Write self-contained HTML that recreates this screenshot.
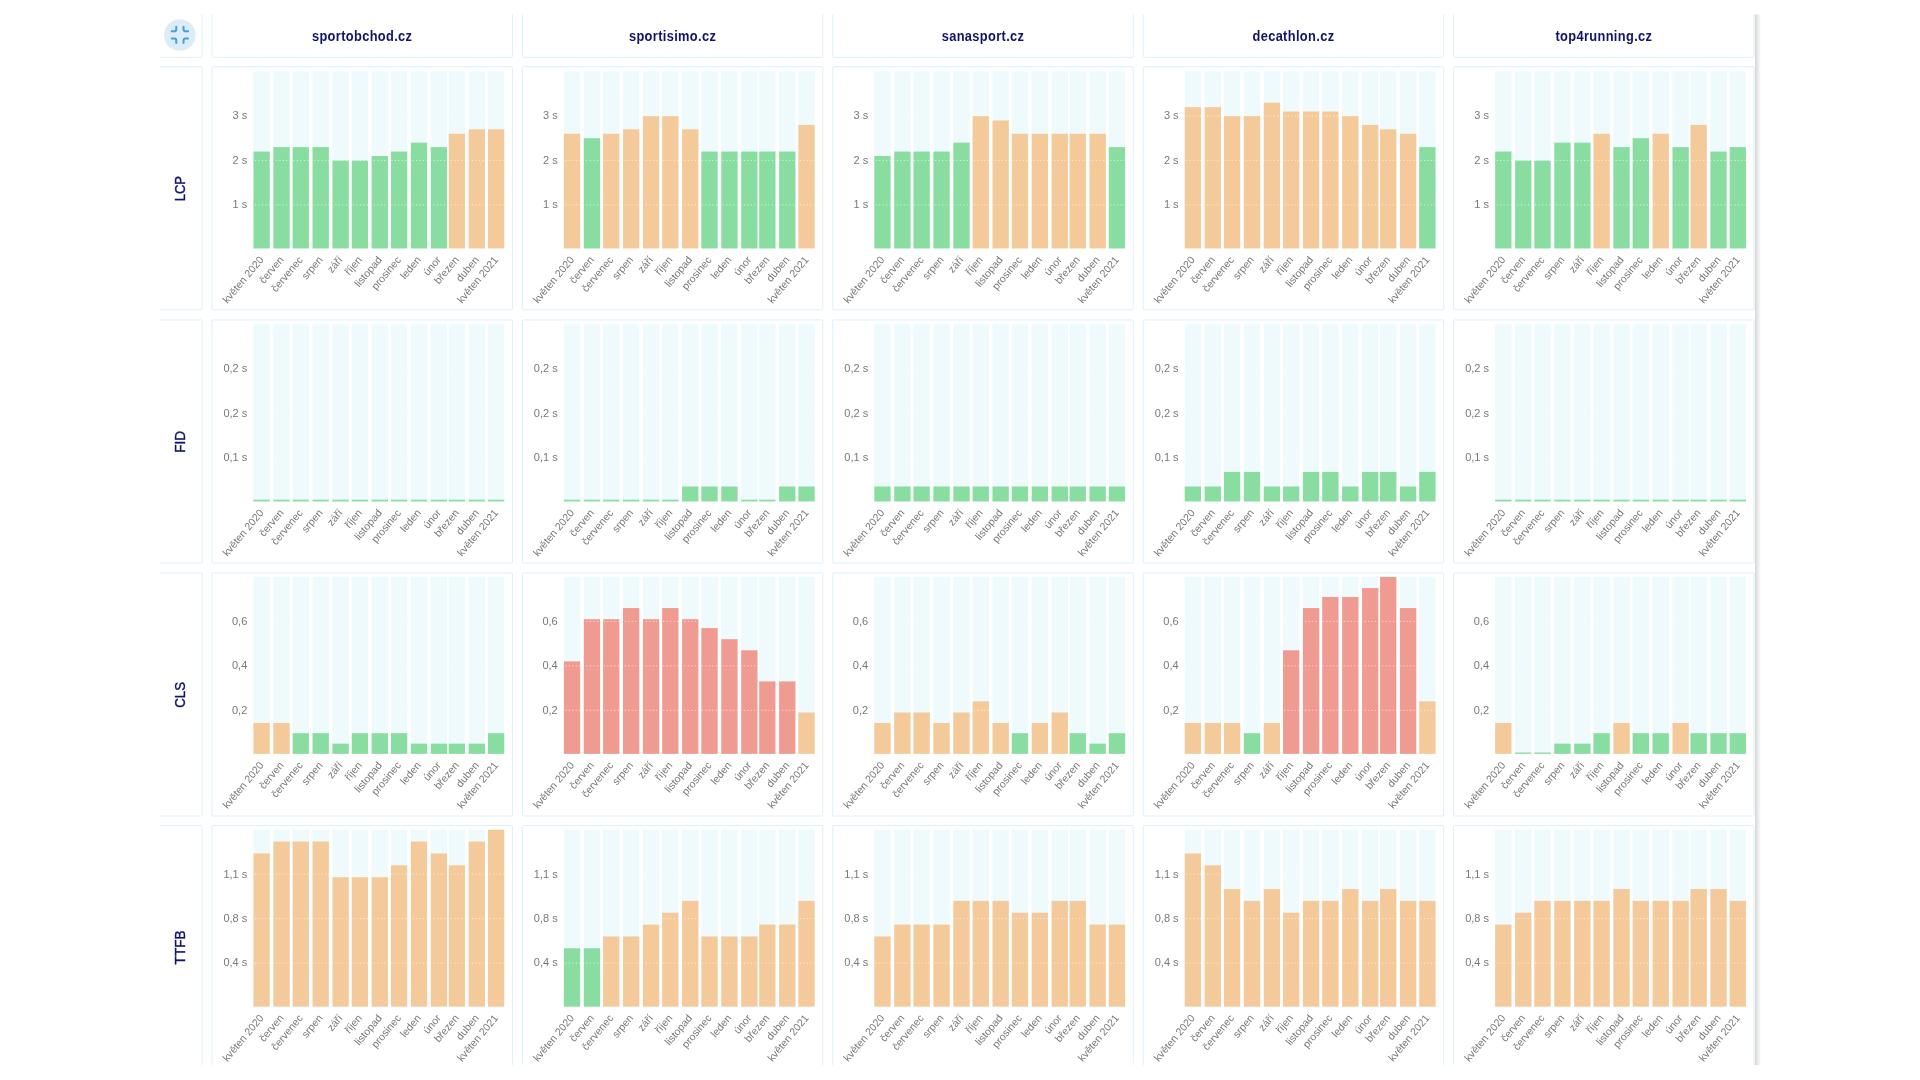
<!DOCTYPE html><html><head><meta charset="utf-8"><style>
html,body{margin:0;padding:0;background:#fff;width:1920px;height:1080px;overflow:hidden}
svg{display:block}
text{font-family:"Liberation Sans",sans-serif}
svg{will-change:transform;filter:blur(0.3px)}
</style></head><body>
<svg width="1920" height="1080" viewBox="0 0 1920 1080">
<defs><clipPath id="cp"><rect x="160" y="14.4" width="1595" height="1050.6"/></clipPath>
<linearGradient id="sh" x1="0" x2="1" y1="0" y2="0"><stop offset="0" stop-color="#000" stop-opacity="0.16"/><stop offset="1" stop-color="#000" stop-opacity="0"/></linearGradient>
</defs>
<rect width="1920" height="1080" fill="#fff"/>
<g clip-path="url(#cp)">
<rect x="140" y="4.4" width="62.1" height="52.9" rx="1" fill="#fff" stroke="#def0fa" stroke-width="1"/>
<rect x="211.9" y="4.4" width="300.5" height="52.9" rx="1" fill="#fff" stroke="#def0fa" stroke-width="1"/>
<rect x="522.33" y="4.4" width="300.5" height="52.9" rx="1" fill="#fff" stroke="#def0fa" stroke-width="1"/>
<rect x="832.76" y="4.4" width="300.5" height="52.9" rx="1" fill="#fff" stroke="#def0fa" stroke-width="1"/>
<rect x="1143.19" y="4.4" width="300.5" height="52.9" rx="1" fill="#fff" stroke="#def0fa" stroke-width="1"/>
<rect x="1453.62" y="4.4" width="300.5" height="52.9" rx="1" fill="#fff" stroke="#def0fa" stroke-width="1"/>
<rect x="140" y="66.7" width="62.1" height="243.1" rx="1" fill="#fff" stroke="#def0fa" stroke-width="1"/>
<rect x="211.9" y="66.7" width="300.5" height="243.1" rx="1" fill="#fff" stroke="#def0fa" stroke-width="1"/>
<rect x="522.33" y="66.7" width="300.5" height="243.1" rx="1" fill="#fff" stroke="#def0fa" stroke-width="1"/>
<rect x="832.76" y="66.7" width="300.5" height="243.1" rx="1" fill="#fff" stroke="#def0fa" stroke-width="1"/>
<rect x="1143.19" y="66.7" width="300.5" height="243.1" rx="1" fill="#fff" stroke="#def0fa" stroke-width="1"/>
<rect x="1453.62" y="66.7" width="300.5" height="243.1" rx="1" fill="#fff" stroke="#def0fa" stroke-width="1"/>
<rect x="140" y="319.9" width="62.1" height="243.1" rx="1" fill="#fff" stroke="#def0fa" stroke-width="1"/>
<rect x="211.9" y="319.9" width="300.5" height="243.1" rx="1" fill="#fff" stroke="#def0fa" stroke-width="1"/>
<rect x="522.33" y="319.9" width="300.5" height="243.1" rx="1" fill="#fff" stroke="#def0fa" stroke-width="1"/>
<rect x="832.76" y="319.9" width="300.5" height="243.1" rx="1" fill="#fff" stroke="#def0fa" stroke-width="1"/>
<rect x="1143.19" y="319.9" width="300.5" height="243.1" rx="1" fill="#fff" stroke="#def0fa" stroke-width="1"/>
<rect x="1453.62" y="319.9" width="300.5" height="243.1" rx="1" fill="#fff" stroke="#def0fa" stroke-width="1"/>
<rect x="140" y="572.9" width="62.1" height="243.1" rx="1" fill="#fff" stroke="#def0fa" stroke-width="1"/>
<rect x="211.9" y="572.9" width="300.5" height="243.1" rx="1" fill="#fff" stroke="#def0fa" stroke-width="1"/>
<rect x="522.33" y="572.9" width="300.5" height="243.1" rx="1" fill="#fff" stroke="#def0fa" stroke-width="1"/>
<rect x="832.76" y="572.9" width="300.5" height="243.1" rx="1" fill="#fff" stroke="#def0fa" stroke-width="1"/>
<rect x="1143.19" y="572.9" width="300.5" height="243.1" rx="1" fill="#fff" stroke="#def0fa" stroke-width="1"/>
<rect x="1453.62" y="572.9" width="300.5" height="243.1" rx="1" fill="#fff" stroke="#def0fa" stroke-width="1"/>
<rect x="140" y="825.5" width="62.1" height="243.1" rx="1" fill="#fff" stroke="#def0fa" stroke-width="1"/>
<rect x="211.9" y="825.5" width="300.5" height="243.1" rx="1" fill="#fff" stroke="#def0fa" stroke-width="1"/>
<rect x="522.33" y="825.5" width="300.5" height="243.1" rx="1" fill="#fff" stroke="#def0fa" stroke-width="1"/>
<rect x="832.76" y="825.5" width="300.5" height="243.1" rx="1" fill="#fff" stroke="#def0fa" stroke-width="1"/>
<rect x="1143.19" y="825.5" width="300.5" height="243.1" rx="1" fill="#fff" stroke="#def0fa" stroke-width="1"/>
<rect x="1453.62" y="825.5" width="300.5" height="243.1" rx="1" fill="#fff" stroke="#def0fa" stroke-width="1"/>
<circle cx="179.9" cy="35.0" r="15.8" fill="#dcedf9"/>
<g transform="translate(168.98,23.98) scale(0.91)" fill="none" stroke="#45a0e0" stroke-width="2.2" stroke-linecap="round" stroke-linejoin="round"><path d="M8 3v3a2 2 0 0 1-2 2H3m18 0h-3a2 2 0 0 1-2-2V3m0 18v-3a2 2 0 0 1 2-2h3M3 16h3a2 2 0 0 1 2 2v3"/></g>
<text x="0" y="0" transform="translate(362.15,40.8) scale(0.885,1)" text-anchor="middle" font-size="14.5" font-weight="bold" letter-spacing="0.4" fill="#12146a">sportobchod.cz</text>
<text x="0" y="0" transform="translate(672.58,40.8) scale(0.885,1)" text-anchor="middle" font-size="14.5" font-weight="bold" letter-spacing="0.4" fill="#12146a">sportisimo.cz</text>
<text x="0" y="0" transform="translate(983.01,40.8) scale(0.885,1)" text-anchor="middle" font-size="14.5" font-weight="bold" letter-spacing="0.4" fill="#12146a">sanasport.cz</text>
<text x="0" y="0" transform="translate(1293.44,40.8) scale(0.885,1)" text-anchor="middle" font-size="14.5" font-weight="bold" letter-spacing="0.4" fill="#12146a">decathlon.cz</text>
<text x="0" y="0" transform="translate(1603.87,40.8) scale(0.885,1)" text-anchor="middle" font-size="14.5" font-weight="bold" letter-spacing="0.4" fill="#12146a">top4running.cz</text>
<text x="0" y="0" transform="translate(185,188.65) rotate(-90) scale(0.93,1)" text-anchor="middle" font-size="14" fill="#12146a" stroke="#12146a" stroke-width="0.4">LCP</text>
<text x="0" y="0" transform="translate(185,441.85) rotate(-90) scale(0.97,1)" text-anchor="middle" font-size="14" fill="#12146a" stroke="#12146a" stroke-width="0.4">FID</text>
<text x="0" y="0" transform="translate(185,694.85) rotate(-90) scale(0.95,1)" text-anchor="middle" font-size="14" fill="#12146a" stroke="#12146a" stroke-width="0.4">CLS</text>
<text x="0" y="0" transform="translate(185,947.45) rotate(-90) scale(0.97,1)" text-anchor="middle" font-size="14" fill="#12146a" stroke="#12146a" stroke-width="0.4">TTFB</text>
<rect x="253.45" y="71.35" width="16.3" height="177.1" fill="#eefafc"/><rect x="273.37" y="71.35" width="16.3" height="177.1" fill="#eefafc"/><rect x="292.64" y="71.35" width="16.3" height="177.1" fill="#eefafc"/><rect x="312.56" y="71.35" width="16.3" height="177.1" fill="#eefafc"/><rect x="332.47" y="71.35" width="16.3" height="177.1" fill="#eefafc"/><rect x="351.75" y="71.35" width="16.3" height="177.1" fill="#eefafc"/><rect x="371.66" y="71.35" width="16.3" height="177.1" fill="#eefafc"/><rect x="390.94" y="71.35" width="16.3" height="177.1" fill="#eefafc"/><rect x="410.85" y="71.35" width="16.3" height="177.1" fill="#eefafc"/><rect x="430.77" y="71.35" width="16.3" height="177.1" fill="#eefafc"/><rect x="448.76" y="71.35" width="16.3" height="177.1" fill="#eefafc"/><rect x="468.68" y="71.35" width="16.3" height="177.1" fill="#eefafc"/><rect x="487.95" y="71.35" width="16.3" height="177.1" fill="#eefafc"/><rect x="253.45" y="151.56" width="16.3" height="96.89" fill="#89dda1"/><rect x="273.37" y="147.12" width="16.3" height="101.33" fill="#89dda1"/><rect x="292.64" y="147.12" width="16.3" height="101.33" fill="#89dda1"/><rect x="312.56" y="147.12" width="16.3" height="101.33" fill="#89dda1"/><rect x="332.47" y="160.45" width="16.3" height="88" fill="#89dda1"/><rect x="351.75" y="160.45" width="16.3" height="88" fill="#89dda1"/><rect x="371.66" y="156" width="16.3" height="92.44" fill="#89dda1"/><rect x="390.94" y="151.56" width="16.3" height="96.89" fill="#89dda1"/><rect x="410.85" y="142.67" width="16.3" height="105.78" fill="#89dda1"/><rect x="430.77" y="147.12" width="16.3" height="101.33" fill="#89dda1"/><rect x="448.76" y="133.78" width="16.3" height="114.67" fill="#f5ca9b"/><rect x="468.68" y="129.33" width="16.3" height="119.12" fill="#f5ca9b"/><rect x="487.95" y="129.33" width="16.3" height="119.12" fill="#f5ca9b"/><line x1="251.4" y1="204.9" x2="504.25" y2="204.9" stroke="#fff" stroke-opacity="0.75" stroke-width="1" stroke-dasharray="1 2.5"/><text x="247.3" y="208.2" text-anchor="end" font-size="11" fill="#787878">1 s</text><line x1="251.4" y1="160.45" x2="504.25" y2="160.45" stroke="#fff" stroke-opacity="0.75" stroke-width="1" stroke-dasharray="1 2.5"/><text x="247.3" y="163.75" text-anchor="end" font-size="11" fill="#787878">2 s</text><line x1="251.4" y1="116" x2="504.25" y2="116" stroke="#fff" stroke-opacity="0.75" stroke-width="1" stroke-dasharray="1 2.5"/><text x="247.3" y="119.3" text-anchor="end" font-size="11" fill="#787878">3 s</text><text x="0" y="0" transform="translate(261.4,257.75) rotate(-50)" text-anchor="end" dy="0.35em" font-size="10.5" fill="#787878">květen 2020</text><text x="0" y="0" transform="translate(281.32,257.75) rotate(-50)" text-anchor="end" dy="0.35em" font-size="10.5" fill="#787878">červen</text><text x="0" y="0" transform="translate(300.59,257.75) rotate(-50)" text-anchor="end" dy="0.35em" font-size="10.5" fill="#787878">červenec</text><text x="0" y="0" transform="translate(320.51,257.75) rotate(-50)" text-anchor="end" dy="0.35em" font-size="10.5" fill="#787878">srpen</text><text x="0" y="0" transform="translate(340.42,257.75) rotate(-50)" text-anchor="end" dy="0.35em" font-size="10.5" fill="#787878">září</text><text x="0" y="0" transform="translate(359.7,257.75) rotate(-50)" text-anchor="end" dy="0.35em" font-size="10.5" fill="#787878">říjen</text><text x="0" y="0" transform="translate(379.61,257.75) rotate(-50)" text-anchor="end" dy="0.35em" font-size="10.5" fill="#787878">listopad</text><text x="0" y="0" transform="translate(398.89,257.75) rotate(-50)" text-anchor="end" dy="0.35em" font-size="10.5" fill="#787878">prosinec</text><text x="0" y="0" transform="translate(418.8,257.75) rotate(-50)" text-anchor="end" dy="0.35em" font-size="10.5" fill="#787878">leden</text><text x="0" y="0" transform="translate(438.72,257.75) rotate(-50)" text-anchor="end" dy="0.35em" font-size="10.5" fill="#787878">únor</text><text x="0" y="0" transform="translate(456.71,257.75) rotate(-50)" text-anchor="end" dy="0.35em" font-size="10.5" fill="#787878">březen</text><text x="0" y="0" transform="translate(476.63,257.75) rotate(-50)" text-anchor="end" dy="0.35em" font-size="10.5" fill="#787878">duben</text><text x="0" y="0" transform="translate(495.9,257.75) rotate(-50)" text-anchor="end" dy="0.35em" font-size="10.5" fill="#787878">květen 2021</text>
<rect x="563.88" y="71.35" width="16.3" height="177.1" fill="#eefafc"/><rect x="583.8" y="71.35" width="16.3" height="177.1" fill="#eefafc"/><rect x="603.07" y="71.35" width="16.3" height="177.1" fill="#eefafc"/><rect x="622.99" y="71.35" width="16.3" height="177.1" fill="#eefafc"/><rect x="642.9" y="71.35" width="16.3" height="177.1" fill="#eefafc"/><rect x="662.18" y="71.35" width="16.3" height="177.1" fill="#eefafc"/><rect x="682.09" y="71.35" width="16.3" height="177.1" fill="#eefafc"/><rect x="701.37" y="71.35" width="16.3" height="177.1" fill="#eefafc"/><rect x="721.28" y="71.35" width="16.3" height="177.1" fill="#eefafc"/><rect x="741.2" y="71.35" width="16.3" height="177.1" fill="#eefafc"/><rect x="759.19" y="71.35" width="16.3" height="177.1" fill="#eefafc"/><rect x="779.11" y="71.35" width="16.3" height="177.1" fill="#eefafc"/><rect x="798.38" y="71.35" width="16.3" height="177.1" fill="#eefafc"/><rect x="563.88" y="133.78" width="16.3" height="114.67" fill="#f5ca9b"/><rect x="583.8" y="138.22" width="16.3" height="110.22" fill="#89dda1"/><rect x="603.07" y="133.78" width="16.3" height="114.67" fill="#f5ca9b"/><rect x="622.99" y="129.33" width="16.3" height="119.12" fill="#f5ca9b"/><rect x="642.9" y="116" width="16.3" height="132.45" fill="#f5ca9b"/><rect x="662.18" y="116" width="16.3" height="132.45" fill="#f5ca9b"/><rect x="682.09" y="129.33" width="16.3" height="119.12" fill="#f5ca9b"/><rect x="701.37" y="151.56" width="16.3" height="96.89" fill="#89dda1"/><rect x="721.28" y="151.56" width="16.3" height="96.89" fill="#89dda1"/><rect x="741.2" y="151.56" width="16.3" height="96.89" fill="#89dda1"/><rect x="759.19" y="151.56" width="16.3" height="96.89" fill="#89dda1"/><rect x="779.11" y="151.56" width="16.3" height="96.89" fill="#89dda1"/><rect x="798.38" y="124.89" width="16.3" height="123.56" fill="#f5ca9b"/><line x1="561.83" y1="204.9" x2="814.68" y2="204.9" stroke="#fff" stroke-opacity="0.75" stroke-width="1" stroke-dasharray="1 2.5"/><text x="557.73" y="208.2" text-anchor="end" font-size="11" fill="#787878">1 s</text><line x1="561.83" y1="160.45" x2="814.68" y2="160.45" stroke="#fff" stroke-opacity="0.75" stroke-width="1" stroke-dasharray="1 2.5"/><text x="557.73" y="163.75" text-anchor="end" font-size="11" fill="#787878">2 s</text><line x1="561.83" y1="116" x2="814.68" y2="116" stroke="#fff" stroke-opacity="0.75" stroke-width="1" stroke-dasharray="1 2.5"/><text x="557.73" y="119.3" text-anchor="end" font-size="11" fill="#787878">3 s</text><text x="0" y="0" transform="translate(571.83,257.75) rotate(-50)" text-anchor="end" dy="0.35em" font-size="10.5" fill="#787878">květen 2020</text><text x="0" y="0" transform="translate(591.75,257.75) rotate(-50)" text-anchor="end" dy="0.35em" font-size="10.5" fill="#787878">červen</text><text x="0" y="0" transform="translate(611.02,257.75) rotate(-50)" text-anchor="end" dy="0.35em" font-size="10.5" fill="#787878">červenec</text><text x="0" y="0" transform="translate(630.94,257.75) rotate(-50)" text-anchor="end" dy="0.35em" font-size="10.5" fill="#787878">srpen</text><text x="0" y="0" transform="translate(650.85,257.75) rotate(-50)" text-anchor="end" dy="0.35em" font-size="10.5" fill="#787878">září</text><text x="0" y="0" transform="translate(670.13,257.75) rotate(-50)" text-anchor="end" dy="0.35em" font-size="10.5" fill="#787878">říjen</text><text x="0" y="0" transform="translate(690.04,257.75) rotate(-50)" text-anchor="end" dy="0.35em" font-size="10.5" fill="#787878">listopad</text><text x="0" y="0" transform="translate(709.32,257.75) rotate(-50)" text-anchor="end" dy="0.35em" font-size="10.5" fill="#787878">prosinec</text><text x="0" y="0" transform="translate(729.23,257.75) rotate(-50)" text-anchor="end" dy="0.35em" font-size="10.5" fill="#787878">leden</text><text x="0" y="0" transform="translate(749.15,257.75) rotate(-50)" text-anchor="end" dy="0.35em" font-size="10.5" fill="#787878">únor</text><text x="0" y="0" transform="translate(767.14,257.75) rotate(-50)" text-anchor="end" dy="0.35em" font-size="10.5" fill="#787878">březen</text><text x="0" y="0" transform="translate(787.06,257.75) rotate(-50)" text-anchor="end" dy="0.35em" font-size="10.5" fill="#787878">duben</text><text x="0" y="0" transform="translate(806.33,257.75) rotate(-50)" text-anchor="end" dy="0.35em" font-size="10.5" fill="#787878">květen 2021</text>
<rect x="874.31" y="71.35" width="16.3" height="177.1" fill="#eefafc"/><rect x="894.23" y="71.35" width="16.3" height="177.1" fill="#eefafc"/><rect x="913.5" y="71.35" width="16.3" height="177.1" fill="#eefafc"/><rect x="933.42" y="71.35" width="16.3" height="177.1" fill="#eefafc"/><rect x="953.33" y="71.35" width="16.3" height="177.1" fill="#eefafc"/><rect x="972.61" y="71.35" width="16.3" height="177.1" fill="#eefafc"/><rect x="992.52" y="71.35" width="16.3" height="177.1" fill="#eefafc"/><rect x="1011.8" y="71.35" width="16.3" height="177.1" fill="#eefafc"/><rect x="1031.71" y="71.35" width="16.3" height="177.1" fill="#eefafc"/><rect x="1051.63" y="71.35" width="16.3" height="177.1" fill="#eefafc"/><rect x="1069.62" y="71.35" width="16.3" height="177.1" fill="#eefafc"/><rect x="1089.54" y="71.35" width="16.3" height="177.1" fill="#eefafc"/><rect x="1108.81" y="71.35" width="16.3" height="177.1" fill="#eefafc"/><rect x="874.31" y="156" width="16.3" height="92.44" fill="#89dda1"/><rect x="894.23" y="151.56" width="16.3" height="96.89" fill="#89dda1"/><rect x="913.5" y="151.56" width="16.3" height="96.89" fill="#89dda1"/><rect x="933.42" y="151.56" width="16.3" height="96.89" fill="#89dda1"/><rect x="953.33" y="142.67" width="16.3" height="105.78" fill="#89dda1"/><rect x="972.61" y="116" width="16.3" height="132.45" fill="#f5ca9b"/><rect x="992.52" y="120.44" width="16.3" height="128" fill="#f5ca9b"/><rect x="1011.8" y="133.78" width="16.3" height="114.67" fill="#f5ca9b"/><rect x="1031.71" y="133.78" width="16.3" height="114.67" fill="#f5ca9b"/><rect x="1051.63" y="133.78" width="16.3" height="114.67" fill="#f5ca9b"/><rect x="1069.62" y="133.78" width="16.3" height="114.67" fill="#f5ca9b"/><rect x="1089.54" y="133.78" width="16.3" height="114.67" fill="#f5ca9b"/><rect x="1108.81" y="147.12" width="16.3" height="101.33" fill="#89dda1"/><line x1="872.26" y1="204.9" x2="1125.11" y2="204.9" stroke="#fff" stroke-opacity="0.75" stroke-width="1" stroke-dasharray="1 2.5"/><text x="868.16" y="208.2" text-anchor="end" font-size="11" fill="#787878">1 s</text><line x1="872.26" y1="160.45" x2="1125.11" y2="160.45" stroke="#fff" stroke-opacity="0.75" stroke-width="1" stroke-dasharray="1 2.5"/><text x="868.16" y="163.75" text-anchor="end" font-size="11" fill="#787878">2 s</text><line x1="872.26" y1="116" x2="1125.11" y2="116" stroke="#fff" stroke-opacity="0.75" stroke-width="1" stroke-dasharray="1 2.5"/><text x="868.16" y="119.3" text-anchor="end" font-size="11" fill="#787878">3 s</text><text x="0" y="0" transform="translate(882.26,257.75) rotate(-50)" text-anchor="end" dy="0.35em" font-size="10.5" fill="#787878">květen 2020</text><text x="0" y="0" transform="translate(902.18,257.75) rotate(-50)" text-anchor="end" dy="0.35em" font-size="10.5" fill="#787878">červen</text><text x="0" y="0" transform="translate(921.45,257.75) rotate(-50)" text-anchor="end" dy="0.35em" font-size="10.5" fill="#787878">červenec</text><text x="0" y="0" transform="translate(941.37,257.75) rotate(-50)" text-anchor="end" dy="0.35em" font-size="10.5" fill="#787878">srpen</text><text x="0" y="0" transform="translate(961.28,257.75) rotate(-50)" text-anchor="end" dy="0.35em" font-size="10.5" fill="#787878">září</text><text x="0" y="0" transform="translate(980.56,257.75) rotate(-50)" text-anchor="end" dy="0.35em" font-size="10.5" fill="#787878">říjen</text><text x="0" y="0" transform="translate(1000.47,257.75) rotate(-50)" text-anchor="end" dy="0.35em" font-size="10.5" fill="#787878">listopad</text><text x="0" y="0" transform="translate(1019.75,257.75) rotate(-50)" text-anchor="end" dy="0.35em" font-size="10.5" fill="#787878">prosinec</text><text x="0" y="0" transform="translate(1039.66,257.75) rotate(-50)" text-anchor="end" dy="0.35em" font-size="10.5" fill="#787878">leden</text><text x="0" y="0" transform="translate(1059.58,257.75) rotate(-50)" text-anchor="end" dy="0.35em" font-size="10.5" fill="#787878">únor</text><text x="0" y="0" transform="translate(1077.57,257.75) rotate(-50)" text-anchor="end" dy="0.35em" font-size="10.5" fill="#787878">březen</text><text x="0" y="0" transform="translate(1097.49,257.75) rotate(-50)" text-anchor="end" dy="0.35em" font-size="10.5" fill="#787878">duben</text><text x="0" y="0" transform="translate(1116.76,257.75) rotate(-50)" text-anchor="end" dy="0.35em" font-size="10.5" fill="#787878">květen 2021</text>
<rect x="1184.74" y="71.35" width="16.3" height="177.1" fill="#eefafc"/><rect x="1204.66" y="71.35" width="16.3" height="177.1" fill="#eefafc"/><rect x="1223.93" y="71.35" width="16.3" height="177.1" fill="#eefafc"/><rect x="1243.85" y="71.35" width="16.3" height="177.1" fill="#eefafc"/><rect x="1263.76" y="71.35" width="16.3" height="177.1" fill="#eefafc"/><rect x="1283.04" y="71.35" width="16.3" height="177.1" fill="#eefafc"/><rect x="1302.95" y="71.35" width="16.3" height="177.1" fill="#eefafc"/><rect x="1322.23" y="71.35" width="16.3" height="177.1" fill="#eefafc"/><rect x="1342.14" y="71.35" width="16.3" height="177.1" fill="#eefafc"/><rect x="1362.06" y="71.35" width="16.3" height="177.1" fill="#eefafc"/><rect x="1380.05" y="71.35" width="16.3" height="177.1" fill="#eefafc"/><rect x="1399.97" y="71.35" width="16.3" height="177.1" fill="#eefafc"/><rect x="1419.24" y="71.35" width="16.3" height="177.1" fill="#eefafc"/><rect x="1184.74" y="107.11" width="16.3" height="141.34" fill="#f5ca9b"/><rect x="1204.66" y="107.11" width="16.3" height="141.34" fill="#f5ca9b"/><rect x="1223.93" y="116" width="16.3" height="132.45" fill="#f5ca9b"/><rect x="1243.85" y="116" width="16.3" height="132.45" fill="#f5ca9b"/><rect x="1263.76" y="102.66" width="16.3" height="145.78" fill="#f5ca9b"/><rect x="1283.04" y="111.55" width="16.3" height="136.9" fill="#f5ca9b"/><rect x="1302.95" y="111.55" width="16.3" height="136.9" fill="#f5ca9b"/><rect x="1322.23" y="111.55" width="16.3" height="136.9" fill="#f5ca9b"/><rect x="1342.14" y="116" width="16.3" height="132.45" fill="#f5ca9b"/><rect x="1362.06" y="124.89" width="16.3" height="123.56" fill="#f5ca9b"/><rect x="1380.05" y="129.33" width="16.3" height="119.12" fill="#f5ca9b"/><rect x="1399.97" y="133.78" width="16.3" height="114.67" fill="#f5ca9b"/><rect x="1419.24" y="147.12" width="16.3" height="101.33" fill="#89dda1"/><line x1="1182.69" y1="204.9" x2="1435.54" y2="204.9" stroke="#fff" stroke-opacity="0.75" stroke-width="1" stroke-dasharray="1 2.5"/><text x="1178.59" y="208.2" text-anchor="end" font-size="11" fill="#787878">1 s</text><line x1="1182.69" y1="160.45" x2="1435.54" y2="160.45" stroke="#fff" stroke-opacity="0.75" stroke-width="1" stroke-dasharray="1 2.5"/><text x="1178.59" y="163.75" text-anchor="end" font-size="11" fill="#787878">2 s</text><line x1="1182.69" y1="116" x2="1435.54" y2="116" stroke="#fff" stroke-opacity="0.75" stroke-width="1" stroke-dasharray="1 2.5"/><text x="1178.59" y="119.3" text-anchor="end" font-size="11" fill="#787878">3 s</text><text x="0" y="0" transform="translate(1192.69,257.75) rotate(-50)" text-anchor="end" dy="0.35em" font-size="10.5" fill="#787878">květen 2020</text><text x="0" y="0" transform="translate(1212.61,257.75) rotate(-50)" text-anchor="end" dy="0.35em" font-size="10.5" fill="#787878">červen</text><text x="0" y="0" transform="translate(1231.88,257.75) rotate(-50)" text-anchor="end" dy="0.35em" font-size="10.5" fill="#787878">červenec</text><text x="0" y="0" transform="translate(1251.8,257.75) rotate(-50)" text-anchor="end" dy="0.35em" font-size="10.5" fill="#787878">srpen</text><text x="0" y="0" transform="translate(1271.71,257.75) rotate(-50)" text-anchor="end" dy="0.35em" font-size="10.5" fill="#787878">září</text><text x="0" y="0" transform="translate(1290.99,257.75) rotate(-50)" text-anchor="end" dy="0.35em" font-size="10.5" fill="#787878">říjen</text><text x="0" y="0" transform="translate(1310.9,257.75) rotate(-50)" text-anchor="end" dy="0.35em" font-size="10.5" fill="#787878">listopad</text><text x="0" y="0" transform="translate(1330.18,257.75) rotate(-50)" text-anchor="end" dy="0.35em" font-size="10.5" fill="#787878">prosinec</text><text x="0" y="0" transform="translate(1350.09,257.75) rotate(-50)" text-anchor="end" dy="0.35em" font-size="10.5" fill="#787878">leden</text><text x="0" y="0" transform="translate(1370.01,257.75) rotate(-50)" text-anchor="end" dy="0.35em" font-size="10.5" fill="#787878">únor</text><text x="0" y="0" transform="translate(1388,257.75) rotate(-50)" text-anchor="end" dy="0.35em" font-size="10.5" fill="#787878">březen</text><text x="0" y="0" transform="translate(1407.92,257.75) rotate(-50)" text-anchor="end" dy="0.35em" font-size="10.5" fill="#787878">duben</text><text x="0" y="0" transform="translate(1427.19,257.75) rotate(-50)" text-anchor="end" dy="0.35em" font-size="10.5" fill="#787878">květen 2021</text>
<rect x="1495.17" y="71.35" width="16.3" height="177.1" fill="#eefafc"/><rect x="1515.09" y="71.35" width="16.3" height="177.1" fill="#eefafc"/><rect x="1534.36" y="71.35" width="16.3" height="177.1" fill="#eefafc"/><rect x="1554.28" y="71.35" width="16.3" height="177.1" fill="#eefafc"/><rect x="1574.19" y="71.35" width="16.3" height="177.1" fill="#eefafc"/><rect x="1593.47" y="71.35" width="16.3" height="177.1" fill="#eefafc"/><rect x="1613.38" y="71.35" width="16.3" height="177.1" fill="#eefafc"/><rect x="1632.66" y="71.35" width="16.3" height="177.1" fill="#eefafc"/><rect x="1652.57" y="71.35" width="16.3" height="177.1" fill="#eefafc"/><rect x="1672.49" y="71.35" width="16.3" height="177.1" fill="#eefafc"/><rect x="1690.48" y="71.35" width="16.3" height="177.1" fill="#eefafc"/><rect x="1710.4" y="71.35" width="16.3" height="177.1" fill="#eefafc"/><rect x="1729.67" y="71.35" width="16.3" height="177.1" fill="#eefafc"/><rect x="1495.17" y="151.56" width="16.3" height="96.89" fill="#89dda1"/><rect x="1515.09" y="160.45" width="16.3" height="88" fill="#89dda1"/><rect x="1534.36" y="160.45" width="16.3" height="88" fill="#89dda1"/><rect x="1554.28" y="142.67" width="16.3" height="105.78" fill="#89dda1"/><rect x="1574.19" y="142.67" width="16.3" height="105.78" fill="#89dda1"/><rect x="1593.47" y="133.78" width="16.3" height="114.67" fill="#f5ca9b"/><rect x="1613.38" y="147.12" width="16.3" height="101.33" fill="#89dda1"/><rect x="1632.66" y="138.22" width="16.3" height="110.22" fill="#89dda1"/><rect x="1652.57" y="133.78" width="16.3" height="114.67" fill="#f5ca9b"/><rect x="1672.49" y="147.12" width="16.3" height="101.33" fill="#89dda1"/><rect x="1690.48" y="124.89" width="16.3" height="123.56" fill="#f5ca9b"/><rect x="1710.4" y="151.56" width="16.3" height="96.89" fill="#89dda1"/><rect x="1729.67" y="147.12" width="16.3" height="101.33" fill="#89dda1"/><line x1="1493.12" y1="204.9" x2="1745.97" y2="204.9" stroke="#fff" stroke-opacity="0.75" stroke-width="1" stroke-dasharray="1 2.5"/><text x="1489.02" y="208.2" text-anchor="end" font-size="11" fill="#787878">1 s</text><line x1="1493.12" y1="160.45" x2="1745.97" y2="160.45" stroke="#fff" stroke-opacity="0.75" stroke-width="1" stroke-dasharray="1 2.5"/><text x="1489.02" y="163.75" text-anchor="end" font-size="11" fill="#787878">2 s</text><line x1="1493.12" y1="116" x2="1745.97" y2="116" stroke="#fff" stroke-opacity="0.75" stroke-width="1" stroke-dasharray="1 2.5"/><text x="1489.02" y="119.3" text-anchor="end" font-size="11" fill="#787878">3 s</text><text x="0" y="0" transform="translate(1503.12,257.75) rotate(-50)" text-anchor="end" dy="0.35em" font-size="10.5" fill="#787878">květen 2020</text><text x="0" y="0" transform="translate(1523.04,257.75) rotate(-50)" text-anchor="end" dy="0.35em" font-size="10.5" fill="#787878">červen</text><text x="0" y="0" transform="translate(1542.31,257.75) rotate(-50)" text-anchor="end" dy="0.35em" font-size="10.5" fill="#787878">červenec</text><text x="0" y="0" transform="translate(1562.23,257.75) rotate(-50)" text-anchor="end" dy="0.35em" font-size="10.5" fill="#787878">srpen</text><text x="0" y="0" transform="translate(1582.14,257.75) rotate(-50)" text-anchor="end" dy="0.35em" font-size="10.5" fill="#787878">září</text><text x="0" y="0" transform="translate(1601.42,257.75) rotate(-50)" text-anchor="end" dy="0.35em" font-size="10.5" fill="#787878">říjen</text><text x="0" y="0" transform="translate(1621.33,257.75) rotate(-50)" text-anchor="end" dy="0.35em" font-size="10.5" fill="#787878">listopad</text><text x="0" y="0" transform="translate(1640.61,257.75) rotate(-50)" text-anchor="end" dy="0.35em" font-size="10.5" fill="#787878">prosinec</text><text x="0" y="0" transform="translate(1660.52,257.75) rotate(-50)" text-anchor="end" dy="0.35em" font-size="10.5" fill="#787878">leden</text><text x="0" y="0" transform="translate(1680.44,257.75) rotate(-50)" text-anchor="end" dy="0.35em" font-size="10.5" fill="#787878">únor</text><text x="0" y="0" transform="translate(1698.43,257.75) rotate(-50)" text-anchor="end" dy="0.35em" font-size="10.5" fill="#787878">březen</text><text x="0" y="0" transform="translate(1718.35,257.75) rotate(-50)" text-anchor="end" dy="0.35em" font-size="10.5" fill="#787878">duben</text><text x="0" y="0" transform="translate(1737.62,257.75) rotate(-50)" text-anchor="end" dy="0.35em" font-size="10.5" fill="#787878">květen 2021</text>
<rect x="253.45" y="324.35" width="16.3" height="177.1" fill="#eefafc"/><rect x="273.37" y="324.35" width="16.3" height="177.1" fill="#eefafc"/><rect x="292.64" y="324.35" width="16.3" height="177.1" fill="#eefafc"/><rect x="312.56" y="324.35" width="16.3" height="177.1" fill="#eefafc"/><rect x="332.47" y="324.35" width="16.3" height="177.1" fill="#eefafc"/><rect x="351.75" y="324.35" width="16.3" height="177.1" fill="#eefafc"/><rect x="371.66" y="324.35" width="16.3" height="177.1" fill="#eefafc"/><rect x="390.94" y="324.35" width="16.3" height="177.1" fill="#eefafc"/><rect x="410.85" y="324.35" width="16.3" height="177.1" fill="#eefafc"/><rect x="430.77" y="324.35" width="16.3" height="177.1" fill="#eefafc"/><rect x="448.76" y="324.35" width="16.3" height="177.1" fill="#eefafc"/><rect x="468.68" y="324.35" width="16.3" height="177.1" fill="#eefafc"/><rect x="487.95" y="324.35" width="16.3" height="177.1" fill="#eefafc"/><rect x="253.45" y="499.7" width="16.3" height="1.75" fill="#89dda1"/><rect x="273.37" y="499.7" width="16.3" height="1.75" fill="#89dda1"/><rect x="292.64" y="499.7" width="16.3" height="1.75" fill="#89dda1"/><rect x="312.56" y="499.7" width="16.3" height="1.75" fill="#89dda1"/><rect x="332.47" y="499.7" width="16.3" height="1.75" fill="#89dda1"/><rect x="351.75" y="499.7" width="16.3" height="1.75" fill="#89dda1"/><rect x="371.66" y="499.7" width="16.3" height="1.75" fill="#89dda1"/><rect x="390.94" y="499.7" width="16.3" height="1.75" fill="#89dda1"/><rect x="410.85" y="499.7" width="16.3" height="1.75" fill="#89dda1"/><rect x="430.77" y="499.7" width="16.3" height="1.75" fill="#89dda1"/><rect x="448.76" y="499.7" width="16.3" height="1.75" fill="#89dda1"/><rect x="468.68" y="499.7" width="16.3" height="1.75" fill="#89dda1"/><rect x="487.95" y="499.7" width="16.3" height="1.75" fill="#89dda1"/><line x1="251.4" y1="457.9" x2="504.25" y2="457.9" stroke="#fff" stroke-opacity="0.75" stroke-width="1" stroke-dasharray="1 2.5"/><text x="247.3" y="461.2" text-anchor="end" font-size="11" fill="#787878">0,1 s</text><line x1="251.4" y1="413.45" x2="504.25" y2="413.45" stroke="#fff" stroke-opacity="0.75" stroke-width="1" stroke-dasharray="1 2.5"/><text x="247.3" y="416.75" text-anchor="end" font-size="11" fill="#787878">0,2 s</text><line x1="251.4" y1="369" x2="504.25" y2="369" stroke="#fff" stroke-opacity="0.75" stroke-width="1" stroke-dasharray="1 2.5"/><text x="247.3" y="372.3" text-anchor="end" font-size="11" fill="#787878">0,2 s</text><text x="0" y="0" transform="translate(261.4,510.75) rotate(-50)" text-anchor="end" dy="0.35em" font-size="10.5" fill="#787878">květen 2020</text><text x="0" y="0" transform="translate(281.32,510.75) rotate(-50)" text-anchor="end" dy="0.35em" font-size="10.5" fill="#787878">červen</text><text x="0" y="0" transform="translate(300.59,510.75) rotate(-50)" text-anchor="end" dy="0.35em" font-size="10.5" fill="#787878">červenec</text><text x="0" y="0" transform="translate(320.51,510.75) rotate(-50)" text-anchor="end" dy="0.35em" font-size="10.5" fill="#787878">srpen</text><text x="0" y="0" transform="translate(340.42,510.75) rotate(-50)" text-anchor="end" dy="0.35em" font-size="10.5" fill="#787878">září</text><text x="0" y="0" transform="translate(359.7,510.75) rotate(-50)" text-anchor="end" dy="0.35em" font-size="10.5" fill="#787878">říjen</text><text x="0" y="0" transform="translate(379.61,510.75) rotate(-50)" text-anchor="end" dy="0.35em" font-size="10.5" fill="#787878">listopad</text><text x="0" y="0" transform="translate(398.89,510.75) rotate(-50)" text-anchor="end" dy="0.35em" font-size="10.5" fill="#787878">prosinec</text><text x="0" y="0" transform="translate(418.8,510.75) rotate(-50)" text-anchor="end" dy="0.35em" font-size="10.5" fill="#787878">leden</text><text x="0" y="0" transform="translate(438.72,510.75) rotate(-50)" text-anchor="end" dy="0.35em" font-size="10.5" fill="#787878">únor</text><text x="0" y="0" transform="translate(456.71,510.75) rotate(-50)" text-anchor="end" dy="0.35em" font-size="10.5" fill="#787878">březen</text><text x="0" y="0" transform="translate(476.63,510.75) rotate(-50)" text-anchor="end" dy="0.35em" font-size="10.5" fill="#787878">duben</text><text x="0" y="0" transform="translate(495.9,510.75) rotate(-50)" text-anchor="end" dy="0.35em" font-size="10.5" fill="#787878">květen 2021</text>
<rect x="563.88" y="324.35" width="16.3" height="177.1" fill="#eefafc"/><rect x="583.8" y="324.35" width="16.3" height="177.1" fill="#eefafc"/><rect x="603.07" y="324.35" width="16.3" height="177.1" fill="#eefafc"/><rect x="622.99" y="324.35" width="16.3" height="177.1" fill="#eefafc"/><rect x="642.9" y="324.35" width="16.3" height="177.1" fill="#eefafc"/><rect x="662.18" y="324.35" width="16.3" height="177.1" fill="#eefafc"/><rect x="682.09" y="324.35" width="16.3" height="177.1" fill="#eefafc"/><rect x="701.37" y="324.35" width="16.3" height="177.1" fill="#eefafc"/><rect x="721.28" y="324.35" width="16.3" height="177.1" fill="#eefafc"/><rect x="741.2" y="324.35" width="16.3" height="177.1" fill="#eefafc"/><rect x="759.19" y="324.35" width="16.3" height="177.1" fill="#eefafc"/><rect x="779.11" y="324.35" width="16.3" height="177.1" fill="#eefafc"/><rect x="798.38" y="324.35" width="16.3" height="177.1" fill="#eefafc"/><rect x="563.88" y="499.7" width="16.3" height="1.75" fill="#89dda1"/><rect x="583.8" y="499.7" width="16.3" height="1.75" fill="#89dda1"/><rect x="603.07" y="499.7" width="16.3" height="1.75" fill="#89dda1"/><rect x="622.99" y="499.7" width="16.3" height="1.75" fill="#89dda1"/><rect x="642.9" y="499.7" width="16.3" height="1.75" fill="#89dda1"/><rect x="662.18" y="499.7" width="16.3" height="1.75" fill="#89dda1"/><rect x="682.09" y="486.5" width="16.3" height="14.95" fill="#89dda1"/><rect x="701.37" y="486.5" width="16.3" height="14.95" fill="#89dda1"/><rect x="721.28" y="486.5" width="16.3" height="14.95" fill="#89dda1"/><rect x="741.2" y="499.7" width="16.3" height="1.75" fill="#89dda1"/><rect x="759.19" y="499.7" width="16.3" height="1.75" fill="#89dda1"/><rect x="779.11" y="486.5" width="16.3" height="14.95" fill="#89dda1"/><rect x="798.38" y="486.5" width="16.3" height="14.95" fill="#89dda1"/><line x1="561.83" y1="457.9" x2="814.68" y2="457.9" stroke="#fff" stroke-opacity="0.75" stroke-width="1" stroke-dasharray="1 2.5"/><text x="557.73" y="461.2" text-anchor="end" font-size="11" fill="#787878">0,1 s</text><line x1="561.83" y1="413.45" x2="814.68" y2="413.45" stroke="#fff" stroke-opacity="0.75" stroke-width="1" stroke-dasharray="1 2.5"/><text x="557.73" y="416.75" text-anchor="end" font-size="11" fill="#787878">0,2 s</text><line x1="561.83" y1="369" x2="814.68" y2="369" stroke="#fff" stroke-opacity="0.75" stroke-width="1" stroke-dasharray="1 2.5"/><text x="557.73" y="372.3" text-anchor="end" font-size="11" fill="#787878">0,2 s</text><text x="0" y="0" transform="translate(571.83,510.75) rotate(-50)" text-anchor="end" dy="0.35em" font-size="10.5" fill="#787878">květen 2020</text><text x="0" y="0" transform="translate(591.75,510.75) rotate(-50)" text-anchor="end" dy="0.35em" font-size="10.5" fill="#787878">červen</text><text x="0" y="0" transform="translate(611.02,510.75) rotate(-50)" text-anchor="end" dy="0.35em" font-size="10.5" fill="#787878">červenec</text><text x="0" y="0" transform="translate(630.94,510.75) rotate(-50)" text-anchor="end" dy="0.35em" font-size="10.5" fill="#787878">srpen</text><text x="0" y="0" transform="translate(650.85,510.75) rotate(-50)" text-anchor="end" dy="0.35em" font-size="10.5" fill="#787878">září</text><text x="0" y="0" transform="translate(670.13,510.75) rotate(-50)" text-anchor="end" dy="0.35em" font-size="10.5" fill="#787878">říjen</text><text x="0" y="0" transform="translate(690.04,510.75) rotate(-50)" text-anchor="end" dy="0.35em" font-size="10.5" fill="#787878">listopad</text><text x="0" y="0" transform="translate(709.32,510.75) rotate(-50)" text-anchor="end" dy="0.35em" font-size="10.5" fill="#787878">prosinec</text><text x="0" y="0" transform="translate(729.23,510.75) rotate(-50)" text-anchor="end" dy="0.35em" font-size="10.5" fill="#787878">leden</text><text x="0" y="0" transform="translate(749.15,510.75) rotate(-50)" text-anchor="end" dy="0.35em" font-size="10.5" fill="#787878">únor</text><text x="0" y="0" transform="translate(767.14,510.75) rotate(-50)" text-anchor="end" dy="0.35em" font-size="10.5" fill="#787878">březen</text><text x="0" y="0" transform="translate(787.06,510.75) rotate(-50)" text-anchor="end" dy="0.35em" font-size="10.5" fill="#787878">duben</text><text x="0" y="0" transform="translate(806.33,510.75) rotate(-50)" text-anchor="end" dy="0.35em" font-size="10.5" fill="#787878">květen 2021</text>
<rect x="874.31" y="324.35" width="16.3" height="177.1" fill="#eefafc"/><rect x="894.23" y="324.35" width="16.3" height="177.1" fill="#eefafc"/><rect x="913.5" y="324.35" width="16.3" height="177.1" fill="#eefafc"/><rect x="933.42" y="324.35" width="16.3" height="177.1" fill="#eefafc"/><rect x="953.33" y="324.35" width="16.3" height="177.1" fill="#eefafc"/><rect x="972.61" y="324.35" width="16.3" height="177.1" fill="#eefafc"/><rect x="992.52" y="324.35" width="16.3" height="177.1" fill="#eefafc"/><rect x="1011.8" y="324.35" width="16.3" height="177.1" fill="#eefafc"/><rect x="1031.71" y="324.35" width="16.3" height="177.1" fill="#eefafc"/><rect x="1051.63" y="324.35" width="16.3" height="177.1" fill="#eefafc"/><rect x="1069.62" y="324.35" width="16.3" height="177.1" fill="#eefafc"/><rect x="1089.54" y="324.35" width="16.3" height="177.1" fill="#eefafc"/><rect x="1108.81" y="324.35" width="16.3" height="177.1" fill="#eefafc"/><rect x="874.31" y="486.5" width="16.3" height="14.95" fill="#89dda1"/><rect x="894.23" y="486.5" width="16.3" height="14.95" fill="#89dda1"/><rect x="913.5" y="486.5" width="16.3" height="14.95" fill="#89dda1"/><rect x="933.42" y="486.5" width="16.3" height="14.95" fill="#89dda1"/><rect x="953.33" y="486.5" width="16.3" height="14.95" fill="#89dda1"/><rect x="972.61" y="486.5" width="16.3" height="14.95" fill="#89dda1"/><rect x="992.52" y="486.5" width="16.3" height="14.95" fill="#89dda1"/><rect x="1011.8" y="486.5" width="16.3" height="14.95" fill="#89dda1"/><rect x="1031.71" y="486.5" width="16.3" height="14.95" fill="#89dda1"/><rect x="1051.63" y="486.5" width="16.3" height="14.95" fill="#89dda1"/><rect x="1069.62" y="486.5" width="16.3" height="14.95" fill="#89dda1"/><rect x="1089.54" y="486.5" width="16.3" height="14.95" fill="#89dda1"/><rect x="1108.81" y="486.5" width="16.3" height="14.95" fill="#89dda1"/><line x1="872.26" y1="457.9" x2="1125.11" y2="457.9" stroke="#fff" stroke-opacity="0.75" stroke-width="1" stroke-dasharray="1 2.5"/><text x="868.16" y="461.2" text-anchor="end" font-size="11" fill="#787878">0,1 s</text><line x1="872.26" y1="413.45" x2="1125.11" y2="413.45" stroke="#fff" stroke-opacity="0.75" stroke-width="1" stroke-dasharray="1 2.5"/><text x="868.16" y="416.75" text-anchor="end" font-size="11" fill="#787878">0,2 s</text><line x1="872.26" y1="369" x2="1125.11" y2="369" stroke="#fff" stroke-opacity="0.75" stroke-width="1" stroke-dasharray="1 2.5"/><text x="868.16" y="372.3" text-anchor="end" font-size="11" fill="#787878">0,2 s</text><text x="0" y="0" transform="translate(882.26,510.75) rotate(-50)" text-anchor="end" dy="0.35em" font-size="10.5" fill="#787878">květen 2020</text><text x="0" y="0" transform="translate(902.18,510.75) rotate(-50)" text-anchor="end" dy="0.35em" font-size="10.5" fill="#787878">červen</text><text x="0" y="0" transform="translate(921.45,510.75) rotate(-50)" text-anchor="end" dy="0.35em" font-size="10.5" fill="#787878">červenec</text><text x="0" y="0" transform="translate(941.37,510.75) rotate(-50)" text-anchor="end" dy="0.35em" font-size="10.5" fill="#787878">srpen</text><text x="0" y="0" transform="translate(961.28,510.75) rotate(-50)" text-anchor="end" dy="0.35em" font-size="10.5" fill="#787878">září</text><text x="0" y="0" transform="translate(980.56,510.75) rotate(-50)" text-anchor="end" dy="0.35em" font-size="10.5" fill="#787878">říjen</text><text x="0" y="0" transform="translate(1000.47,510.75) rotate(-50)" text-anchor="end" dy="0.35em" font-size="10.5" fill="#787878">listopad</text><text x="0" y="0" transform="translate(1019.75,510.75) rotate(-50)" text-anchor="end" dy="0.35em" font-size="10.5" fill="#787878">prosinec</text><text x="0" y="0" transform="translate(1039.66,510.75) rotate(-50)" text-anchor="end" dy="0.35em" font-size="10.5" fill="#787878">leden</text><text x="0" y="0" transform="translate(1059.58,510.75) rotate(-50)" text-anchor="end" dy="0.35em" font-size="10.5" fill="#787878">únor</text><text x="0" y="0" transform="translate(1077.57,510.75) rotate(-50)" text-anchor="end" dy="0.35em" font-size="10.5" fill="#787878">březen</text><text x="0" y="0" transform="translate(1097.49,510.75) rotate(-50)" text-anchor="end" dy="0.35em" font-size="10.5" fill="#787878">duben</text><text x="0" y="0" transform="translate(1116.76,510.75) rotate(-50)" text-anchor="end" dy="0.35em" font-size="10.5" fill="#787878">květen 2021</text>
<rect x="1184.74" y="324.35" width="16.3" height="177.1" fill="#eefafc"/><rect x="1204.66" y="324.35" width="16.3" height="177.1" fill="#eefafc"/><rect x="1223.93" y="324.35" width="16.3" height="177.1" fill="#eefafc"/><rect x="1243.85" y="324.35" width="16.3" height="177.1" fill="#eefafc"/><rect x="1263.76" y="324.35" width="16.3" height="177.1" fill="#eefafc"/><rect x="1283.04" y="324.35" width="16.3" height="177.1" fill="#eefafc"/><rect x="1302.95" y="324.35" width="16.3" height="177.1" fill="#eefafc"/><rect x="1322.23" y="324.35" width="16.3" height="177.1" fill="#eefafc"/><rect x="1342.14" y="324.35" width="16.3" height="177.1" fill="#eefafc"/><rect x="1362.06" y="324.35" width="16.3" height="177.1" fill="#eefafc"/><rect x="1380.05" y="324.35" width="16.3" height="177.1" fill="#eefafc"/><rect x="1399.97" y="324.35" width="16.3" height="177.1" fill="#eefafc"/><rect x="1419.24" y="324.35" width="16.3" height="177.1" fill="#eefafc"/><rect x="1184.74" y="486.5" width="16.3" height="14.95" fill="#89dda1"/><rect x="1204.66" y="486.5" width="16.3" height="14.95" fill="#89dda1"/><rect x="1223.93" y="471.9" width="16.3" height="29.55" fill="#89dda1"/><rect x="1243.85" y="471.9" width="16.3" height="29.55" fill="#89dda1"/><rect x="1263.76" y="486.5" width="16.3" height="14.95" fill="#89dda1"/><rect x="1283.04" y="486.5" width="16.3" height="14.95" fill="#89dda1"/><rect x="1302.95" y="471.9" width="16.3" height="29.55" fill="#89dda1"/><rect x="1322.23" y="471.9" width="16.3" height="29.55" fill="#89dda1"/><rect x="1342.14" y="486.5" width="16.3" height="14.95" fill="#89dda1"/><rect x="1362.06" y="471.9" width="16.3" height="29.55" fill="#89dda1"/><rect x="1380.05" y="471.9" width="16.3" height="29.55" fill="#89dda1"/><rect x="1399.97" y="486.5" width="16.3" height="14.95" fill="#89dda1"/><rect x="1419.24" y="471.9" width="16.3" height="29.55" fill="#89dda1"/><line x1="1182.69" y1="457.9" x2="1435.54" y2="457.9" stroke="#fff" stroke-opacity="0.75" stroke-width="1" stroke-dasharray="1 2.5"/><text x="1178.59" y="461.2" text-anchor="end" font-size="11" fill="#787878">0,1 s</text><line x1="1182.69" y1="413.45" x2="1435.54" y2="413.45" stroke="#fff" stroke-opacity="0.75" stroke-width="1" stroke-dasharray="1 2.5"/><text x="1178.59" y="416.75" text-anchor="end" font-size="11" fill="#787878">0,2 s</text><line x1="1182.69" y1="369" x2="1435.54" y2="369" stroke="#fff" stroke-opacity="0.75" stroke-width="1" stroke-dasharray="1 2.5"/><text x="1178.59" y="372.3" text-anchor="end" font-size="11" fill="#787878">0,2 s</text><text x="0" y="0" transform="translate(1192.69,510.75) rotate(-50)" text-anchor="end" dy="0.35em" font-size="10.5" fill="#787878">květen 2020</text><text x="0" y="0" transform="translate(1212.61,510.75) rotate(-50)" text-anchor="end" dy="0.35em" font-size="10.5" fill="#787878">červen</text><text x="0" y="0" transform="translate(1231.88,510.75) rotate(-50)" text-anchor="end" dy="0.35em" font-size="10.5" fill="#787878">červenec</text><text x="0" y="0" transform="translate(1251.8,510.75) rotate(-50)" text-anchor="end" dy="0.35em" font-size="10.5" fill="#787878">srpen</text><text x="0" y="0" transform="translate(1271.71,510.75) rotate(-50)" text-anchor="end" dy="0.35em" font-size="10.5" fill="#787878">září</text><text x="0" y="0" transform="translate(1290.99,510.75) rotate(-50)" text-anchor="end" dy="0.35em" font-size="10.5" fill="#787878">říjen</text><text x="0" y="0" transform="translate(1310.9,510.75) rotate(-50)" text-anchor="end" dy="0.35em" font-size="10.5" fill="#787878">listopad</text><text x="0" y="0" transform="translate(1330.18,510.75) rotate(-50)" text-anchor="end" dy="0.35em" font-size="10.5" fill="#787878">prosinec</text><text x="0" y="0" transform="translate(1350.09,510.75) rotate(-50)" text-anchor="end" dy="0.35em" font-size="10.5" fill="#787878">leden</text><text x="0" y="0" transform="translate(1370.01,510.75) rotate(-50)" text-anchor="end" dy="0.35em" font-size="10.5" fill="#787878">únor</text><text x="0" y="0" transform="translate(1388,510.75) rotate(-50)" text-anchor="end" dy="0.35em" font-size="10.5" fill="#787878">březen</text><text x="0" y="0" transform="translate(1407.92,510.75) rotate(-50)" text-anchor="end" dy="0.35em" font-size="10.5" fill="#787878">duben</text><text x="0" y="0" transform="translate(1427.19,510.75) rotate(-50)" text-anchor="end" dy="0.35em" font-size="10.5" fill="#787878">květen 2021</text>
<rect x="1495.17" y="324.35" width="16.3" height="177.1" fill="#eefafc"/><rect x="1515.09" y="324.35" width="16.3" height="177.1" fill="#eefafc"/><rect x="1534.36" y="324.35" width="16.3" height="177.1" fill="#eefafc"/><rect x="1554.28" y="324.35" width="16.3" height="177.1" fill="#eefafc"/><rect x="1574.19" y="324.35" width="16.3" height="177.1" fill="#eefafc"/><rect x="1593.47" y="324.35" width="16.3" height="177.1" fill="#eefafc"/><rect x="1613.38" y="324.35" width="16.3" height="177.1" fill="#eefafc"/><rect x="1632.66" y="324.35" width="16.3" height="177.1" fill="#eefafc"/><rect x="1652.57" y="324.35" width="16.3" height="177.1" fill="#eefafc"/><rect x="1672.49" y="324.35" width="16.3" height="177.1" fill="#eefafc"/><rect x="1690.48" y="324.35" width="16.3" height="177.1" fill="#eefafc"/><rect x="1710.4" y="324.35" width="16.3" height="177.1" fill="#eefafc"/><rect x="1729.67" y="324.35" width="16.3" height="177.1" fill="#eefafc"/><rect x="1495.17" y="499.7" width="16.3" height="1.75" fill="#89dda1"/><rect x="1515.09" y="499.7" width="16.3" height="1.75" fill="#89dda1"/><rect x="1534.36" y="499.7" width="16.3" height="1.75" fill="#89dda1"/><rect x="1554.28" y="499.7" width="16.3" height="1.75" fill="#89dda1"/><rect x="1574.19" y="499.7" width="16.3" height="1.75" fill="#89dda1"/><rect x="1593.47" y="499.7" width="16.3" height="1.75" fill="#89dda1"/><rect x="1613.38" y="499.7" width="16.3" height="1.75" fill="#89dda1"/><rect x="1632.66" y="499.7" width="16.3" height="1.75" fill="#89dda1"/><rect x="1652.57" y="499.7" width="16.3" height="1.75" fill="#89dda1"/><rect x="1672.49" y="499.7" width="16.3" height="1.75" fill="#89dda1"/><rect x="1690.48" y="499.7" width="16.3" height="1.75" fill="#89dda1"/><rect x="1710.4" y="499.7" width="16.3" height="1.75" fill="#89dda1"/><rect x="1729.67" y="499.7" width="16.3" height="1.75" fill="#89dda1"/><line x1="1493.12" y1="457.9" x2="1745.97" y2="457.9" stroke="#fff" stroke-opacity="0.75" stroke-width="1" stroke-dasharray="1 2.5"/><text x="1489.02" y="461.2" text-anchor="end" font-size="11" fill="#787878">0,1 s</text><line x1="1493.12" y1="413.45" x2="1745.97" y2="413.45" stroke="#fff" stroke-opacity="0.75" stroke-width="1" stroke-dasharray="1 2.5"/><text x="1489.02" y="416.75" text-anchor="end" font-size="11" fill="#787878">0,2 s</text><line x1="1493.12" y1="369" x2="1745.97" y2="369" stroke="#fff" stroke-opacity="0.75" stroke-width="1" stroke-dasharray="1 2.5"/><text x="1489.02" y="372.3" text-anchor="end" font-size="11" fill="#787878">0,2 s</text><text x="0" y="0" transform="translate(1503.12,510.75) rotate(-50)" text-anchor="end" dy="0.35em" font-size="10.5" fill="#787878">květen 2020</text><text x="0" y="0" transform="translate(1523.04,510.75) rotate(-50)" text-anchor="end" dy="0.35em" font-size="10.5" fill="#787878">červen</text><text x="0" y="0" transform="translate(1542.31,510.75) rotate(-50)" text-anchor="end" dy="0.35em" font-size="10.5" fill="#787878">červenec</text><text x="0" y="0" transform="translate(1562.23,510.75) rotate(-50)" text-anchor="end" dy="0.35em" font-size="10.5" fill="#787878">srpen</text><text x="0" y="0" transform="translate(1582.14,510.75) rotate(-50)" text-anchor="end" dy="0.35em" font-size="10.5" fill="#787878">září</text><text x="0" y="0" transform="translate(1601.42,510.75) rotate(-50)" text-anchor="end" dy="0.35em" font-size="10.5" fill="#787878">říjen</text><text x="0" y="0" transform="translate(1621.33,510.75) rotate(-50)" text-anchor="end" dy="0.35em" font-size="10.5" fill="#787878">listopad</text><text x="0" y="0" transform="translate(1640.61,510.75) rotate(-50)" text-anchor="end" dy="0.35em" font-size="10.5" fill="#787878">prosinec</text><text x="0" y="0" transform="translate(1660.52,510.75) rotate(-50)" text-anchor="end" dy="0.35em" font-size="10.5" fill="#787878">leden</text><text x="0" y="0" transform="translate(1680.44,510.75) rotate(-50)" text-anchor="end" dy="0.35em" font-size="10.5" fill="#787878">únor</text><text x="0" y="0" transform="translate(1698.43,510.75) rotate(-50)" text-anchor="end" dy="0.35em" font-size="10.5" fill="#787878">březen</text><text x="0" y="0" transform="translate(1718.35,510.75) rotate(-50)" text-anchor="end" dy="0.35em" font-size="10.5" fill="#787878">duben</text><text x="0" y="0" transform="translate(1737.62,510.75) rotate(-50)" text-anchor="end" dy="0.35em" font-size="10.5" fill="#787878">květen 2021</text>
<rect x="253.45" y="576.75" width="16.3" height="177.1" fill="#eefafc"/><rect x="273.37" y="576.75" width="16.3" height="177.1" fill="#eefafc"/><rect x="292.64" y="576.75" width="16.3" height="177.1" fill="#eefafc"/><rect x="312.56" y="576.75" width="16.3" height="177.1" fill="#eefafc"/><rect x="332.47" y="576.75" width="16.3" height="177.1" fill="#eefafc"/><rect x="351.75" y="576.75" width="16.3" height="177.1" fill="#eefafc"/><rect x="371.66" y="576.75" width="16.3" height="177.1" fill="#eefafc"/><rect x="390.94" y="576.75" width="16.3" height="177.1" fill="#eefafc"/><rect x="410.85" y="576.75" width="16.3" height="177.1" fill="#eefafc"/><rect x="430.77" y="576.75" width="16.3" height="177.1" fill="#eefafc"/><rect x="448.76" y="576.75" width="16.3" height="177.1" fill="#eefafc"/><rect x="468.68" y="576.75" width="16.3" height="177.1" fill="#eefafc"/><rect x="487.95" y="576.75" width="16.3" height="177.1" fill="#eefafc"/><rect x="253.45" y="722.97" width="16.3" height="30.88" fill="#f5ca9b"/><rect x="273.37" y="722.97" width="16.3" height="30.88" fill="#f5ca9b"/><rect x="292.64" y="733.19" width="16.3" height="20.66" fill="#89dda1"/><rect x="312.56" y="733.19" width="16.3" height="20.66" fill="#89dda1"/><rect x="332.47" y="743.64" width="16.3" height="10.21" fill="#89dda1"/><rect x="351.75" y="733.19" width="16.3" height="20.66" fill="#89dda1"/><rect x="371.66" y="733.19" width="16.3" height="20.66" fill="#89dda1"/><rect x="390.94" y="733.19" width="16.3" height="20.66" fill="#89dda1"/><rect x="410.85" y="743.64" width="16.3" height="10.21" fill="#89dda1"/><rect x="430.77" y="743.64" width="16.3" height="10.21" fill="#89dda1"/><rect x="448.76" y="743.64" width="16.3" height="10.21" fill="#89dda1"/><rect x="468.68" y="743.64" width="16.3" height="10.21" fill="#89dda1"/><rect x="487.95" y="733.19" width="16.3" height="20.66" fill="#89dda1"/><line x1="251.4" y1="710.3" x2="504.25" y2="710.3" stroke="#fff" stroke-opacity="0.75" stroke-width="1" stroke-dasharray="1 2.5"/><text x="247.3" y="713.6" text-anchor="end" font-size="11" fill="#787878">0,2</text><line x1="251.4" y1="665.85" x2="504.25" y2="665.85" stroke="#fff" stroke-opacity="0.75" stroke-width="1" stroke-dasharray="1 2.5"/><text x="247.3" y="669.15" text-anchor="end" font-size="11" fill="#787878">0,4</text><line x1="251.4" y1="621.4" x2="504.25" y2="621.4" stroke="#fff" stroke-opacity="0.75" stroke-width="1" stroke-dasharray="1 2.5"/><text x="247.3" y="624.7" text-anchor="end" font-size="11" fill="#787878">0,6</text><text x="0" y="0" transform="translate(261.4,763.15) rotate(-50)" text-anchor="end" dy="0.35em" font-size="10.5" fill="#787878">květen 2020</text><text x="0" y="0" transform="translate(281.32,763.15) rotate(-50)" text-anchor="end" dy="0.35em" font-size="10.5" fill="#787878">červen</text><text x="0" y="0" transform="translate(300.59,763.15) rotate(-50)" text-anchor="end" dy="0.35em" font-size="10.5" fill="#787878">červenec</text><text x="0" y="0" transform="translate(320.51,763.15) rotate(-50)" text-anchor="end" dy="0.35em" font-size="10.5" fill="#787878">srpen</text><text x="0" y="0" transform="translate(340.42,763.15) rotate(-50)" text-anchor="end" dy="0.35em" font-size="10.5" fill="#787878">září</text><text x="0" y="0" transform="translate(359.7,763.15) rotate(-50)" text-anchor="end" dy="0.35em" font-size="10.5" fill="#787878">říjen</text><text x="0" y="0" transform="translate(379.61,763.15) rotate(-50)" text-anchor="end" dy="0.35em" font-size="10.5" fill="#787878">listopad</text><text x="0" y="0" transform="translate(398.89,763.15) rotate(-50)" text-anchor="end" dy="0.35em" font-size="10.5" fill="#787878">prosinec</text><text x="0" y="0" transform="translate(418.8,763.15) rotate(-50)" text-anchor="end" dy="0.35em" font-size="10.5" fill="#787878">leden</text><text x="0" y="0" transform="translate(438.72,763.15) rotate(-50)" text-anchor="end" dy="0.35em" font-size="10.5" fill="#787878">únor</text><text x="0" y="0" transform="translate(456.71,763.15) rotate(-50)" text-anchor="end" dy="0.35em" font-size="10.5" fill="#787878">březen</text><text x="0" y="0" transform="translate(476.63,763.15) rotate(-50)" text-anchor="end" dy="0.35em" font-size="10.5" fill="#787878">duben</text><text x="0" y="0" transform="translate(495.9,763.15) rotate(-50)" text-anchor="end" dy="0.35em" font-size="10.5" fill="#787878">květen 2021</text>
<rect x="563.88" y="576.75" width="16.3" height="177.1" fill="#eefafc"/><rect x="583.8" y="576.75" width="16.3" height="177.1" fill="#eefafc"/><rect x="603.07" y="576.75" width="16.3" height="177.1" fill="#eefafc"/><rect x="622.99" y="576.75" width="16.3" height="177.1" fill="#eefafc"/><rect x="642.9" y="576.75" width="16.3" height="177.1" fill="#eefafc"/><rect x="662.18" y="576.75" width="16.3" height="177.1" fill="#eefafc"/><rect x="682.09" y="576.75" width="16.3" height="177.1" fill="#eefafc"/><rect x="701.37" y="576.75" width="16.3" height="177.1" fill="#eefafc"/><rect x="721.28" y="576.75" width="16.3" height="177.1" fill="#eefafc"/><rect x="741.2" y="576.75" width="16.3" height="177.1" fill="#eefafc"/><rect x="759.19" y="576.75" width="16.3" height="177.1" fill="#eefafc"/><rect x="779.11" y="576.75" width="16.3" height="177.1" fill="#eefafc"/><rect x="798.38" y="576.75" width="16.3" height="177.1" fill="#eefafc"/><rect x="563.88" y="661.4" width="16.3" height="92.45" fill="#f09b91"/><rect x="583.8" y="619.18" width="16.3" height="134.67" fill="#f09b91"/><rect x="603.07" y="619.18" width="16.3" height="134.67" fill="#f09b91"/><rect x="622.99" y="608.07" width="16.3" height="145.78" fill="#f09b91"/><rect x="642.9" y="619.18" width="16.3" height="134.67" fill="#f09b91"/><rect x="662.18" y="608.07" width="16.3" height="145.78" fill="#f09b91"/><rect x="682.09" y="619.18" width="16.3" height="134.67" fill="#f09b91"/><rect x="701.37" y="628.07" width="16.3" height="125.78" fill="#f09b91"/><rect x="721.28" y="639.18" width="16.3" height="114.67" fill="#f09b91"/><rect x="741.2" y="650.29" width="16.3" height="103.56" fill="#f09b91"/><rect x="759.19" y="681.41" width="16.3" height="72.44" fill="#f09b91"/><rect x="779.11" y="681.41" width="16.3" height="72.44" fill="#f09b91"/><rect x="798.38" y="712.52" width="16.3" height="41.33" fill="#f5ca9b"/><line x1="561.83" y1="710.3" x2="814.68" y2="710.3" stroke="#fff" stroke-opacity="0.75" stroke-width="1" stroke-dasharray="1 2.5"/><text x="557.73" y="713.6" text-anchor="end" font-size="11" fill="#787878">0,2</text><line x1="561.83" y1="665.85" x2="814.68" y2="665.85" stroke="#fff" stroke-opacity="0.75" stroke-width="1" stroke-dasharray="1 2.5"/><text x="557.73" y="669.15" text-anchor="end" font-size="11" fill="#787878">0,4</text><line x1="561.83" y1="621.4" x2="814.68" y2="621.4" stroke="#fff" stroke-opacity="0.75" stroke-width="1" stroke-dasharray="1 2.5"/><text x="557.73" y="624.7" text-anchor="end" font-size="11" fill="#787878">0,6</text><text x="0" y="0" transform="translate(571.83,763.15) rotate(-50)" text-anchor="end" dy="0.35em" font-size="10.5" fill="#787878">květen 2020</text><text x="0" y="0" transform="translate(591.75,763.15) rotate(-50)" text-anchor="end" dy="0.35em" font-size="10.5" fill="#787878">červen</text><text x="0" y="0" transform="translate(611.02,763.15) rotate(-50)" text-anchor="end" dy="0.35em" font-size="10.5" fill="#787878">červenec</text><text x="0" y="0" transform="translate(630.94,763.15) rotate(-50)" text-anchor="end" dy="0.35em" font-size="10.5" fill="#787878">srpen</text><text x="0" y="0" transform="translate(650.85,763.15) rotate(-50)" text-anchor="end" dy="0.35em" font-size="10.5" fill="#787878">září</text><text x="0" y="0" transform="translate(670.13,763.15) rotate(-50)" text-anchor="end" dy="0.35em" font-size="10.5" fill="#787878">říjen</text><text x="0" y="0" transform="translate(690.04,763.15) rotate(-50)" text-anchor="end" dy="0.35em" font-size="10.5" fill="#787878">listopad</text><text x="0" y="0" transform="translate(709.32,763.15) rotate(-50)" text-anchor="end" dy="0.35em" font-size="10.5" fill="#787878">prosinec</text><text x="0" y="0" transform="translate(729.23,763.15) rotate(-50)" text-anchor="end" dy="0.35em" font-size="10.5" fill="#787878">leden</text><text x="0" y="0" transform="translate(749.15,763.15) rotate(-50)" text-anchor="end" dy="0.35em" font-size="10.5" fill="#787878">únor</text><text x="0" y="0" transform="translate(767.14,763.15) rotate(-50)" text-anchor="end" dy="0.35em" font-size="10.5" fill="#787878">březen</text><text x="0" y="0" transform="translate(787.06,763.15) rotate(-50)" text-anchor="end" dy="0.35em" font-size="10.5" fill="#787878">duben</text><text x="0" y="0" transform="translate(806.33,763.15) rotate(-50)" text-anchor="end" dy="0.35em" font-size="10.5" fill="#787878">květen 2021</text>
<rect x="874.31" y="576.75" width="16.3" height="177.1" fill="#eefafc"/><rect x="894.23" y="576.75" width="16.3" height="177.1" fill="#eefafc"/><rect x="913.5" y="576.75" width="16.3" height="177.1" fill="#eefafc"/><rect x="933.42" y="576.75" width="16.3" height="177.1" fill="#eefafc"/><rect x="953.33" y="576.75" width="16.3" height="177.1" fill="#eefafc"/><rect x="972.61" y="576.75" width="16.3" height="177.1" fill="#eefafc"/><rect x="992.52" y="576.75" width="16.3" height="177.1" fill="#eefafc"/><rect x="1011.8" y="576.75" width="16.3" height="177.1" fill="#eefafc"/><rect x="1031.71" y="576.75" width="16.3" height="177.1" fill="#eefafc"/><rect x="1051.63" y="576.75" width="16.3" height="177.1" fill="#eefafc"/><rect x="1069.62" y="576.75" width="16.3" height="177.1" fill="#eefafc"/><rect x="1089.54" y="576.75" width="16.3" height="177.1" fill="#eefafc"/><rect x="1108.81" y="576.75" width="16.3" height="177.1" fill="#eefafc"/><rect x="874.31" y="722.97" width="16.3" height="30.88" fill="#f5ca9b"/><rect x="894.23" y="712.52" width="16.3" height="41.33" fill="#f5ca9b"/><rect x="913.5" y="712.52" width="16.3" height="41.33" fill="#f5ca9b"/><rect x="933.42" y="722.97" width="16.3" height="30.88" fill="#f5ca9b"/><rect x="953.33" y="712.52" width="16.3" height="41.33" fill="#f5ca9b"/><rect x="972.61" y="701.41" width="16.3" height="52.44" fill="#f5ca9b"/><rect x="992.52" y="722.97" width="16.3" height="30.88" fill="#f5ca9b"/><rect x="1011.8" y="733.19" width="16.3" height="20.66" fill="#89dda1"/><rect x="1031.71" y="722.97" width="16.3" height="30.88" fill="#f5ca9b"/><rect x="1051.63" y="712.52" width="16.3" height="41.33" fill="#f5ca9b"/><rect x="1069.62" y="733.19" width="16.3" height="20.66" fill="#89dda1"/><rect x="1089.54" y="743.64" width="16.3" height="10.21" fill="#89dda1"/><rect x="1108.81" y="733.19" width="16.3" height="20.66" fill="#89dda1"/><line x1="872.26" y1="710.3" x2="1125.11" y2="710.3" stroke="#fff" stroke-opacity="0.75" stroke-width="1" stroke-dasharray="1 2.5"/><text x="868.16" y="713.6" text-anchor="end" font-size="11" fill="#787878">0,2</text><line x1="872.26" y1="665.85" x2="1125.11" y2="665.85" stroke="#fff" stroke-opacity="0.75" stroke-width="1" stroke-dasharray="1 2.5"/><text x="868.16" y="669.15" text-anchor="end" font-size="11" fill="#787878">0,4</text><line x1="872.26" y1="621.4" x2="1125.11" y2="621.4" stroke="#fff" stroke-opacity="0.75" stroke-width="1" stroke-dasharray="1 2.5"/><text x="868.16" y="624.7" text-anchor="end" font-size="11" fill="#787878">0,6</text><text x="0" y="0" transform="translate(882.26,763.15) rotate(-50)" text-anchor="end" dy="0.35em" font-size="10.5" fill="#787878">květen 2020</text><text x="0" y="0" transform="translate(902.18,763.15) rotate(-50)" text-anchor="end" dy="0.35em" font-size="10.5" fill="#787878">červen</text><text x="0" y="0" transform="translate(921.45,763.15) rotate(-50)" text-anchor="end" dy="0.35em" font-size="10.5" fill="#787878">červenec</text><text x="0" y="0" transform="translate(941.37,763.15) rotate(-50)" text-anchor="end" dy="0.35em" font-size="10.5" fill="#787878">srpen</text><text x="0" y="0" transform="translate(961.28,763.15) rotate(-50)" text-anchor="end" dy="0.35em" font-size="10.5" fill="#787878">září</text><text x="0" y="0" transform="translate(980.56,763.15) rotate(-50)" text-anchor="end" dy="0.35em" font-size="10.5" fill="#787878">říjen</text><text x="0" y="0" transform="translate(1000.47,763.15) rotate(-50)" text-anchor="end" dy="0.35em" font-size="10.5" fill="#787878">listopad</text><text x="0" y="0" transform="translate(1019.75,763.15) rotate(-50)" text-anchor="end" dy="0.35em" font-size="10.5" fill="#787878">prosinec</text><text x="0" y="0" transform="translate(1039.66,763.15) rotate(-50)" text-anchor="end" dy="0.35em" font-size="10.5" fill="#787878">leden</text><text x="0" y="0" transform="translate(1059.58,763.15) rotate(-50)" text-anchor="end" dy="0.35em" font-size="10.5" fill="#787878">únor</text><text x="0" y="0" transform="translate(1077.57,763.15) rotate(-50)" text-anchor="end" dy="0.35em" font-size="10.5" fill="#787878">březen</text><text x="0" y="0" transform="translate(1097.49,763.15) rotate(-50)" text-anchor="end" dy="0.35em" font-size="10.5" fill="#787878">duben</text><text x="0" y="0" transform="translate(1116.76,763.15) rotate(-50)" text-anchor="end" dy="0.35em" font-size="10.5" fill="#787878">květen 2021</text>
<rect x="1184.74" y="576.75" width="16.3" height="177.1" fill="#eefafc"/><rect x="1204.66" y="576.75" width="16.3" height="177.1" fill="#eefafc"/><rect x="1223.93" y="576.75" width="16.3" height="177.1" fill="#eefafc"/><rect x="1243.85" y="576.75" width="16.3" height="177.1" fill="#eefafc"/><rect x="1263.76" y="576.75" width="16.3" height="177.1" fill="#eefafc"/><rect x="1283.04" y="576.75" width="16.3" height="177.1" fill="#eefafc"/><rect x="1302.95" y="576.75" width="16.3" height="177.1" fill="#eefafc"/><rect x="1322.23" y="576.75" width="16.3" height="177.1" fill="#eefafc"/><rect x="1342.14" y="576.75" width="16.3" height="177.1" fill="#eefafc"/><rect x="1362.06" y="576.75" width="16.3" height="177.1" fill="#eefafc"/><rect x="1380.05" y="576.75" width="16.3" height="177.1" fill="#eefafc"/><rect x="1399.97" y="576.75" width="16.3" height="177.1" fill="#eefafc"/><rect x="1419.24" y="576.75" width="16.3" height="177.1" fill="#eefafc"/><rect x="1184.74" y="722.97" width="16.3" height="30.88" fill="#f5ca9b"/><rect x="1204.66" y="722.97" width="16.3" height="30.88" fill="#f5ca9b"/><rect x="1223.93" y="722.97" width="16.3" height="30.88" fill="#f5ca9b"/><rect x="1243.85" y="733.19" width="16.3" height="20.66" fill="#89dda1"/><rect x="1263.76" y="722.97" width="16.3" height="30.88" fill="#f5ca9b"/><rect x="1283.04" y="650.29" width="16.3" height="103.56" fill="#f09b91"/><rect x="1302.95" y="608.07" width="16.3" height="145.78" fill="#f09b91"/><rect x="1322.23" y="596.95" width="16.3" height="156.9" fill="#f09b91"/><rect x="1342.14" y="596.95" width="16.3" height="156.9" fill="#f09b91"/><rect x="1362.06" y="588.06" width="16.3" height="165.79" fill="#f09b91"/><rect x="1380.05" y="576.95" width="16.3" height="176.9" fill="#f09b91"/><rect x="1399.97" y="608.07" width="16.3" height="145.78" fill="#f09b91"/><rect x="1419.24" y="701.41" width="16.3" height="52.44" fill="#f5ca9b"/><line x1="1182.69" y1="710.3" x2="1435.54" y2="710.3" stroke="#fff" stroke-opacity="0.75" stroke-width="1" stroke-dasharray="1 2.5"/><text x="1178.59" y="713.6" text-anchor="end" font-size="11" fill="#787878">0,2</text><line x1="1182.69" y1="665.85" x2="1435.54" y2="665.85" stroke="#fff" stroke-opacity="0.75" stroke-width="1" stroke-dasharray="1 2.5"/><text x="1178.59" y="669.15" text-anchor="end" font-size="11" fill="#787878">0,4</text><line x1="1182.69" y1="621.4" x2="1435.54" y2="621.4" stroke="#fff" stroke-opacity="0.75" stroke-width="1" stroke-dasharray="1 2.5"/><text x="1178.59" y="624.7" text-anchor="end" font-size="11" fill="#787878">0,6</text><text x="0" y="0" transform="translate(1192.69,763.15) rotate(-50)" text-anchor="end" dy="0.35em" font-size="10.5" fill="#787878">květen 2020</text><text x="0" y="0" transform="translate(1212.61,763.15) rotate(-50)" text-anchor="end" dy="0.35em" font-size="10.5" fill="#787878">červen</text><text x="0" y="0" transform="translate(1231.88,763.15) rotate(-50)" text-anchor="end" dy="0.35em" font-size="10.5" fill="#787878">červenec</text><text x="0" y="0" transform="translate(1251.8,763.15) rotate(-50)" text-anchor="end" dy="0.35em" font-size="10.5" fill="#787878">srpen</text><text x="0" y="0" transform="translate(1271.71,763.15) rotate(-50)" text-anchor="end" dy="0.35em" font-size="10.5" fill="#787878">září</text><text x="0" y="0" transform="translate(1290.99,763.15) rotate(-50)" text-anchor="end" dy="0.35em" font-size="10.5" fill="#787878">říjen</text><text x="0" y="0" transform="translate(1310.9,763.15) rotate(-50)" text-anchor="end" dy="0.35em" font-size="10.5" fill="#787878">listopad</text><text x="0" y="0" transform="translate(1330.18,763.15) rotate(-50)" text-anchor="end" dy="0.35em" font-size="10.5" fill="#787878">prosinec</text><text x="0" y="0" transform="translate(1350.09,763.15) rotate(-50)" text-anchor="end" dy="0.35em" font-size="10.5" fill="#787878">leden</text><text x="0" y="0" transform="translate(1370.01,763.15) rotate(-50)" text-anchor="end" dy="0.35em" font-size="10.5" fill="#787878">únor</text><text x="0" y="0" transform="translate(1388,763.15) rotate(-50)" text-anchor="end" dy="0.35em" font-size="10.5" fill="#787878">březen</text><text x="0" y="0" transform="translate(1407.92,763.15) rotate(-50)" text-anchor="end" dy="0.35em" font-size="10.5" fill="#787878">duben</text><text x="0" y="0" transform="translate(1427.19,763.15) rotate(-50)" text-anchor="end" dy="0.35em" font-size="10.5" fill="#787878">květen 2021</text>
<rect x="1495.17" y="576.75" width="16.3" height="177.1" fill="#eefafc"/><rect x="1515.09" y="576.75" width="16.3" height="177.1" fill="#eefafc"/><rect x="1534.36" y="576.75" width="16.3" height="177.1" fill="#eefafc"/><rect x="1554.28" y="576.75" width="16.3" height="177.1" fill="#eefafc"/><rect x="1574.19" y="576.75" width="16.3" height="177.1" fill="#eefafc"/><rect x="1593.47" y="576.75" width="16.3" height="177.1" fill="#eefafc"/><rect x="1613.38" y="576.75" width="16.3" height="177.1" fill="#eefafc"/><rect x="1632.66" y="576.75" width="16.3" height="177.1" fill="#eefafc"/><rect x="1652.57" y="576.75" width="16.3" height="177.1" fill="#eefafc"/><rect x="1672.49" y="576.75" width="16.3" height="177.1" fill="#eefafc"/><rect x="1690.48" y="576.75" width="16.3" height="177.1" fill="#eefafc"/><rect x="1710.4" y="576.75" width="16.3" height="177.1" fill="#eefafc"/><rect x="1729.67" y="576.75" width="16.3" height="177.1" fill="#eefafc"/><rect x="1495.17" y="722.97" width="16.3" height="30.88" fill="#f5ca9b"/><rect x="1515.09" y="752.53" width="16.3" height="1.32" fill="#89dda1"/><rect x="1534.36" y="752.53" width="16.3" height="1.32" fill="#89dda1"/><rect x="1554.28" y="743.64" width="16.3" height="10.21" fill="#89dda1"/><rect x="1574.19" y="743.64" width="16.3" height="10.21" fill="#89dda1"/><rect x="1593.47" y="733.19" width="16.3" height="20.66" fill="#89dda1"/><rect x="1613.38" y="722.97" width="16.3" height="30.88" fill="#f5ca9b"/><rect x="1632.66" y="733.19" width="16.3" height="20.66" fill="#89dda1"/><rect x="1652.57" y="733.19" width="16.3" height="20.66" fill="#89dda1"/><rect x="1672.49" y="722.97" width="16.3" height="30.88" fill="#f5ca9b"/><rect x="1690.48" y="733.19" width="16.3" height="20.66" fill="#89dda1"/><rect x="1710.4" y="733.19" width="16.3" height="20.66" fill="#89dda1"/><rect x="1729.67" y="733.19" width="16.3" height="20.66" fill="#89dda1"/><line x1="1493.12" y1="710.3" x2="1745.97" y2="710.3" stroke="#fff" stroke-opacity="0.75" stroke-width="1" stroke-dasharray="1 2.5"/><text x="1489.02" y="713.6" text-anchor="end" font-size="11" fill="#787878">0,2</text><line x1="1493.12" y1="665.85" x2="1745.97" y2="665.85" stroke="#fff" stroke-opacity="0.75" stroke-width="1" stroke-dasharray="1 2.5"/><text x="1489.02" y="669.15" text-anchor="end" font-size="11" fill="#787878">0,4</text><line x1="1493.12" y1="621.4" x2="1745.97" y2="621.4" stroke="#fff" stroke-opacity="0.75" stroke-width="1" stroke-dasharray="1 2.5"/><text x="1489.02" y="624.7" text-anchor="end" font-size="11" fill="#787878">0,6</text><text x="0" y="0" transform="translate(1503.12,763.15) rotate(-50)" text-anchor="end" dy="0.35em" font-size="10.5" fill="#787878">květen 2020</text><text x="0" y="0" transform="translate(1523.04,763.15) rotate(-50)" text-anchor="end" dy="0.35em" font-size="10.5" fill="#787878">červen</text><text x="0" y="0" transform="translate(1542.31,763.15) rotate(-50)" text-anchor="end" dy="0.35em" font-size="10.5" fill="#787878">červenec</text><text x="0" y="0" transform="translate(1562.23,763.15) rotate(-50)" text-anchor="end" dy="0.35em" font-size="10.5" fill="#787878">srpen</text><text x="0" y="0" transform="translate(1582.14,763.15) rotate(-50)" text-anchor="end" dy="0.35em" font-size="10.5" fill="#787878">září</text><text x="0" y="0" transform="translate(1601.42,763.15) rotate(-50)" text-anchor="end" dy="0.35em" font-size="10.5" fill="#787878">říjen</text><text x="0" y="0" transform="translate(1621.33,763.15) rotate(-50)" text-anchor="end" dy="0.35em" font-size="10.5" fill="#787878">listopad</text><text x="0" y="0" transform="translate(1640.61,763.15) rotate(-50)" text-anchor="end" dy="0.35em" font-size="10.5" fill="#787878">prosinec</text><text x="0" y="0" transform="translate(1660.52,763.15) rotate(-50)" text-anchor="end" dy="0.35em" font-size="10.5" fill="#787878">leden</text><text x="0" y="0" transform="translate(1680.44,763.15) rotate(-50)" text-anchor="end" dy="0.35em" font-size="10.5" fill="#787878">únor</text><text x="0" y="0" transform="translate(1698.43,763.15) rotate(-50)" text-anchor="end" dy="0.35em" font-size="10.5" fill="#787878">březen</text><text x="0" y="0" transform="translate(1718.35,763.15) rotate(-50)" text-anchor="end" dy="0.35em" font-size="10.5" fill="#787878">duben</text><text x="0" y="0" transform="translate(1737.62,763.15) rotate(-50)" text-anchor="end" dy="0.35em" font-size="10.5" fill="#787878">květen 2021</text>
<rect x="253.45" y="829.55" width="16.3" height="177.1" fill="#eefafc"/><rect x="273.37" y="829.55" width="16.3" height="177.1" fill="#eefafc"/><rect x="292.64" y="829.55" width="16.3" height="177.1" fill="#eefafc"/><rect x="312.56" y="829.55" width="16.3" height="177.1" fill="#eefafc"/><rect x="332.47" y="829.55" width="16.3" height="177.1" fill="#eefafc"/><rect x="351.75" y="829.55" width="16.3" height="177.1" fill="#eefafc"/><rect x="371.66" y="829.55" width="16.3" height="177.1" fill="#eefafc"/><rect x="390.94" y="829.55" width="16.3" height="177.1" fill="#eefafc"/><rect x="410.85" y="829.55" width="16.3" height="177.1" fill="#eefafc"/><rect x="430.77" y="829.55" width="16.3" height="177.1" fill="#eefafc"/><rect x="448.76" y="829.55" width="16.3" height="177.1" fill="#eefafc"/><rect x="468.68" y="829.55" width="16.3" height="177.1" fill="#eefafc"/><rect x="487.95" y="829.55" width="16.3" height="177.1" fill="#eefafc"/><rect x="253.45" y="853.46" width="16.3" height="153.19" fill="#f5ca9b"/><rect x="273.37" y="841.6" width="16.3" height="165.05" fill="#f5ca9b"/><rect x="292.64" y="841.6" width="16.3" height="165.05" fill="#f5ca9b"/><rect x="312.56" y="841.6" width="16.3" height="165.05" fill="#f5ca9b"/><rect x="332.47" y="877.16" width="16.3" height="129.49" fill="#f5ca9b"/><rect x="351.75" y="877.16" width="16.3" height="129.49" fill="#f5ca9b"/><rect x="371.66" y="877.16" width="16.3" height="129.49" fill="#f5ca9b"/><rect x="390.94" y="865.31" width="16.3" height="141.34" fill="#f5ca9b"/><rect x="410.85" y="841.6" width="16.3" height="165.05" fill="#f5ca9b"/><rect x="430.77" y="853.46" width="16.3" height="153.19" fill="#f5ca9b"/><rect x="448.76" y="865.31" width="16.3" height="141.34" fill="#f5ca9b"/><rect x="468.68" y="841.6" width="16.3" height="165.05" fill="#f5ca9b"/><rect x="487.95" y="829.75" width="16.3" height="176.9" fill="#f5ca9b"/><line x1="251.4" y1="963.1" x2="504.25" y2="963.1" stroke="#fff" stroke-opacity="0.75" stroke-width="1" stroke-dasharray="1 2.5"/><text x="247.3" y="966.4" text-anchor="end" font-size="11" fill="#787878">0,4 s</text><line x1="251.4" y1="918.65" x2="504.25" y2="918.65" stroke="#fff" stroke-opacity="0.75" stroke-width="1" stroke-dasharray="1 2.5"/><text x="247.3" y="921.95" text-anchor="end" font-size="11" fill="#787878">0,8 s</text><line x1="251.4" y1="874.2" x2="504.25" y2="874.2" stroke="#fff" stroke-opacity="0.75" stroke-width="1" stroke-dasharray="1 2.5"/><text x="247.3" y="877.5" text-anchor="end" font-size="11" fill="#787878">1,1 s</text><text x="0" y="0" transform="translate(261.4,1015.95) rotate(-50)" text-anchor="end" dy="0.35em" font-size="10.5" fill="#787878">květen 2020</text><text x="0" y="0" transform="translate(281.32,1015.95) rotate(-50)" text-anchor="end" dy="0.35em" font-size="10.5" fill="#787878">červen</text><text x="0" y="0" transform="translate(300.59,1015.95) rotate(-50)" text-anchor="end" dy="0.35em" font-size="10.5" fill="#787878">červenec</text><text x="0" y="0" transform="translate(320.51,1015.95) rotate(-50)" text-anchor="end" dy="0.35em" font-size="10.5" fill="#787878">srpen</text><text x="0" y="0" transform="translate(340.42,1015.95) rotate(-50)" text-anchor="end" dy="0.35em" font-size="10.5" fill="#787878">září</text><text x="0" y="0" transform="translate(359.7,1015.95) rotate(-50)" text-anchor="end" dy="0.35em" font-size="10.5" fill="#787878">říjen</text><text x="0" y="0" transform="translate(379.61,1015.95) rotate(-50)" text-anchor="end" dy="0.35em" font-size="10.5" fill="#787878">listopad</text><text x="0" y="0" transform="translate(398.89,1015.95) rotate(-50)" text-anchor="end" dy="0.35em" font-size="10.5" fill="#787878">prosinec</text><text x="0" y="0" transform="translate(418.8,1015.95) rotate(-50)" text-anchor="end" dy="0.35em" font-size="10.5" fill="#787878">leden</text><text x="0" y="0" transform="translate(438.72,1015.95) rotate(-50)" text-anchor="end" dy="0.35em" font-size="10.5" fill="#787878">únor</text><text x="0" y="0" transform="translate(456.71,1015.95) rotate(-50)" text-anchor="end" dy="0.35em" font-size="10.5" fill="#787878">březen</text><text x="0" y="0" transform="translate(476.63,1015.95) rotate(-50)" text-anchor="end" dy="0.35em" font-size="10.5" fill="#787878">duben</text><text x="0" y="0" transform="translate(495.9,1015.95) rotate(-50)" text-anchor="end" dy="0.35em" font-size="10.5" fill="#787878">květen 2021</text>
<rect x="563.88" y="829.55" width="16.3" height="177.1" fill="#eefafc"/><rect x="583.8" y="829.55" width="16.3" height="177.1" fill="#eefafc"/><rect x="603.07" y="829.55" width="16.3" height="177.1" fill="#eefafc"/><rect x="622.99" y="829.55" width="16.3" height="177.1" fill="#eefafc"/><rect x="642.9" y="829.55" width="16.3" height="177.1" fill="#eefafc"/><rect x="662.18" y="829.55" width="16.3" height="177.1" fill="#eefafc"/><rect x="682.09" y="829.55" width="16.3" height="177.1" fill="#eefafc"/><rect x="701.37" y="829.55" width="16.3" height="177.1" fill="#eefafc"/><rect x="721.28" y="829.55" width="16.3" height="177.1" fill="#eefafc"/><rect x="741.2" y="829.55" width="16.3" height="177.1" fill="#eefafc"/><rect x="759.19" y="829.55" width="16.3" height="177.1" fill="#eefafc"/><rect x="779.11" y="829.55" width="16.3" height="177.1" fill="#eefafc"/><rect x="798.38" y="829.55" width="16.3" height="177.1" fill="#eefafc"/><rect x="563.88" y="948.28" width="16.3" height="58.37" fill="#89dda1"/><rect x="583.8" y="948.28" width="16.3" height="58.37" fill="#89dda1"/><rect x="603.07" y="936.43" width="16.3" height="70.22" fill="#f5ca9b"/><rect x="622.99" y="936.43" width="16.3" height="70.22" fill="#f5ca9b"/><rect x="642.9" y="924.58" width="16.3" height="82.07" fill="#f5ca9b"/><rect x="662.18" y="912.72" width="16.3" height="93.93" fill="#f5ca9b"/><rect x="682.09" y="900.87" width="16.3" height="105.78" fill="#f5ca9b"/><rect x="701.37" y="936.43" width="16.3" height="70.22" fill="#f5ca9b"/><rect x="721.28" y="936.43" width="16.3" height="70.22" fill="#f5ca9b"/><rect x="741.2" y="936.43" width="16.3" height="70.22" fill="#f5ca9b"/><rect x="759.19" y="924.58" width="16.3" height="82.07" fill="#f5ca9b"/><rect x="779.11" y="924.58" width="16.3" height="82.07" fill="#f5ca9b"/><rect x="798.38" y="900.87" width="16.3" height="105.78" fill="#f5ca9b"/><line x1="561.83" y1="963.1" x2="814.68" y2="963.1" stroke="#fff" stroke-opacity="0.75" stroke-width="1" stroke-dasharray="1 2.5"/><text x="557.73" y="966.4" text-anchor="end" font-size="11" fill="#787878">0,4 s</text><line x1="561.83" y1="918.65" x2="814.68" y2="918.65" stroke="#fff" stroke-opacity="0.75" stroke-width="1" stroke-dasharray="1 2.5"/><text x="557.73" y="921.95" text-anchor="end" font-size="11" fill="#787878">0,8 s</text><line x1="561.83" y1="874.2" x2="814.68" y2="874.2" stroke="#fff" stroke-opacity="0.75" stroke-width="1" stroke-dasharray="1 2.5"/><text x="557.73" y="877.5" text-anchor="end" font-size="11" fill="#787878">1,1 s</text><text x="0" y="0" transform="translate(571.83,1015.95) rotate(-50)" text-anchor="end" dy="0.35em" font-size="10.5" fill="#787878">květen 2020</text><text x="0" y="0" transform="translate(591.75,1015.95) rotate(-50)" text-anchor="end" dy="0.35em" font-size="10.5" fill="#787878">červen</text><text x="0" y="0" transform="translate(611.02,1015.95) rotate(-50)" text-anchor="end" dy="0.35em" font-size="10.5" fill="#787878">červenec</text><text x="0" y="0" transform="translate(630.94,1015.95) rotate(-50)" text-anchor="end" dy="0.35em" font-size="10.5" fill="#787878">srpen</text><text x="0" y="0" transform="translate(650.85,1015.95) rotate(-50)" text-anchor="end" dy="0.35em" font-size="10.5" fill="#787878">září</text><text x="0" y="0" transform="translate(670.13,1015.95) rotate(-50)" text-anchor="end" dy="0.35em" font-size="10.5" fill="#787878">říjen</text><text x="0" y="0" transform="translate(690.04,1015.95) rotate(-50)" text-anchor="end" dy="0.35em" font-size="10.5" fill="#787878">listopad</text><text x="0" y="0" transform="translate(709.32,1015.95) rotate(-50)" text-anchor="end" dy="0.35em" font-size="10.5" fill="#787878">prosinec</text><text x="0" y="0" transform="translate(729.23,1015.95) rotate(-50)" text-anchor="end" dy="0.35em" font-size="10.5" fill="#787878">leden</text><text x="0" y="0" transform="translate(749.15,1015.95) rotate(-50)" text-anchor="end" dy="0.35em" font-size="10.5" fill="#787878">únor</text><text x="0" y="0" transform="translate(767.14,1015.95) rotate(-50)" text-anchor="end" dy="0.35em" font-size="10.5" fill="#787878">březen</text><text x="0" y="0" transform="translate(787.06,1015.95) rotate(-50)" text-anchor="end" dy="0.35em" font-size="10.5" fill="#787878">duben</text><text x="0" y="0" transform="translate(806.33,1015.95) rotate(-50)" text-anchor="end" dy="0.35em" font-size="10.5" fill="#787878">květen 2021</text>
<rect x="874.31" y="829.55" width="16.3" height="177.1" fill="#eefafc"/><rect x="894.23" y="829.55" width="16.3" height="177.1" fill="#eefafc"/><rect x="913.5" y="829.55" width="16.3" height="177.1" fill="#eefafc"/><rect x="933.42" y="829.55" width="16.3" height="177.1" fill="#eefafc"/><rect x="953.33" y="829.55" width="16.3" height="177.1" fill="#eefafc"/><rect x="972.61" y="829.55" width="16.3" height="177.1" fill="#eefafc"/><rect x="992.52" y="829.55" width="16.3" height="177.1" fill="#eefafc"/><rect x="1011.8" y="829.55" width="16.3" height="177.1" fill="#eefafc"/><rect x="1031.71" y="829.55" width="16.3" height="177.1" fill="#eefafc"/><rect x="1051.63" y="829.55" width="16.3" height="177.1" fill="#eefafc"/><rect x="1069.62" y="829.55" width="16.3" height="177.1" fill="#eefafc"/><rect x="1089.54" y="829.55" width="16.3" height="177.1" fill="#eefafc"/><rect x="1108.81" y="829.55" width="16.3" height="177.1" fill="#eefafc"/><rect x="874.31" y="936.43" width="16.3" height="70.22" fill="#f5ca9b"/><rect x="894.23" y="924.58" width="16.3" height="82.07" fill="#f5ca9b"/><rect x="913.5" y="924.58" width="16.3" height="82.07" fill="#f5ca9b"/><rect x="933.42" y="924.58" width="16.3" height="82.07" fill="#f5ca9b"/><rect x="953.33" y="900.87" width="16.3" height="105.78" fill="#f5ca9b"/><rect x="972.61" y="900.87" width="16.3" height="105.78" fill="#f5ca9b"/><rect x="992.52" y="900.87" width="16.3" height="105.78" fill="#f5ca9b"/><rect x="1011.8" y="912.72" width="16.3" height="93.93" fill="#f5ca9b"/><rect x="1031.71" y="912.72" width="16.3" height="93.93" fill="#f5ca9b"/><rect x="1051.63" y="900.87" width="16.3" height="105.78" fill="#f5ca9b"/><rect x="1069.62" y="900.87" width="16.3" height="105.78" fill="#f5ca9b"/><rect x="1089.54" y="924.58" width="16.3" height="82.07" fill="#f5ca9b"/><rect x="1108.81" y="924.58" width="16.3" height="82.07" fill="#f5ca9b"/><line x1="872.26" y1="963.1" x2="1125.11" y2="963.1" stroke="#fff" stroke-opacity="0.75" stroke-width="1" stroke-dasharray="1 2.5"/><text x="868.16" y="966.4" text-anchor="end" font-size="11" fill="#787878">0,4 s</text><line x1="872.26" y1="918.65" x2="1125.11" y2="918.65" stroke="#fff" stroke-opacity="0.75" stroke-width="1" stroke-dasharray="1 2.5"/><text x="868.16" y="921.95" text-anchor="end" font-size="11" fill="#787878">0,8 s</text><line x1="872.26" y1="874.2" x2="1125.11" y2="874.2" stroke="#fff" stroke-opacity="0.75" stroke-width="1" stroke-dasharray="1 2.5"/><text x="868.16" y="877.5" text-anchor="end" font-size="11" fill="#787878">1,1 s</text><text x="0" y="0" transform="translate(882.26,1015.95) rotate(-50)" text-anchor="end" dy="0.35em" font-size="10.5" fill="#787878">květen 2020</text><text x="0" y="0" transform="translate(902.18,1015.95) rotate(-50)" text-anchor="end" dy="0.35em" font-size="10.5" fill="#787878">červen</text><text x="0" y="0" transform="translate(921.45,1015.95) rotate(-50)" text-anchor="end" dy="0.35em" font-size="10.5" fill="#787878">červenec</text><text x="0" y="0" transform="translate(941.37,1015.95) rotate(-50)" text-anchor="end" dy="0.35em" font-size="10.5" fill="#787878">srpen</text><text x="0" y="0" transform="translate(961.28,1015.95) rotate(-50)" text-anchor="end" dy="0.35em" font-size="10.5" fill="#787878">září</text><text x="0" y="0" transform="translate(980.56,1015.95) rotate(-50)" text-anchor="end" dy="0.35em" font-size="10.5" fill="#787878">říjen</text><text x="0" y="0" transform="translate(1000.47,1015.95) rotate(-50)" text-anchor="end" dy="0.35em" font-size="10.5" fill="#787878">listopad</text><text x="0" y="0" transform="translate(1019.75,1015.95) rotate(-50)" text-anchor="end" dy="0.35em" font-size="10.5" fill="#787878">prosinec</text><text x="0" y="0" transform="translate(1039.66,1015.95) rotate(-50)" text-anchor="end" dy="0.35em" font-size="10.5" fill="#787878">leden</text><text x="0" y="0" transform="translate(1059.58,1015.95) rotate(-50)" text-anchor="end" dy="0.35em" font-size="10.5" fill="#787878">únor</text><text x="0" y="0" transform="translate(1077.57,1015.95) rotate(-50)" text-anchor="end" dy="0.35em" font-size="10.5" fill="#787878">březen</text><text x="0" y="0" transform="translate(1097.49,1015.95) rotate(-50)" text-anchor="end" dy="0.35em" font-size="10.5" fill="#787878">duben</text><text x="0" y="0" transform="translate(1116.76,1015.95) rotate(-50)" text-anchor="end" dy="0.35em" font-size="10.5" fill="#787878">květen 2021</text>
<rect x="1184.74" y="829.55" width="16.3" height="177.1" fill="#eefafc"/><rect x="1204.66" y="829.55" width="16.3" height="177.1" fill="#eefafc"/><rect x="1223.93" y="829.55" width="16.3" height="177.1" fill="#eefafc"/><rect x="1243.85" y="829.55" width="16.3" height="177.1" fill="#eefafc"/><rect x="1263.76" y="829.55" width="16.3" height="177.1" fill="#eefafc"/><rect x="1283.04" y="829.55" width="16.3" height="177.1" fill="#eefafc"/><rect x="1302.95" y="829.55" width="16.3" height="177.1" fill="#eefafc"/><rect x="1322.23" y="829.55" width="16.3" height="177.1" fill="#eefafc"/><rect x="1342.14" y="829.55" width="16.3" height="177.1" fill="#eefafc"/><rect x="1362.06" y="829.55" width="16.3" height="177.1" fill="#eefafc"/><rect x="1380.05" y="829.55" width="16.3" height="177.1" fill="#eefafc"/><rect x="1399.97" y="829.55" width="16.3" height="177.1" fill="#eefafc"/><rect x="1419.24" y="829.55" width="16.3" height="177.1" fill="#eefafc"/><rect x="1184.74" y="853.46" width="16.3" height="153.19" fill="#f5ca9b"/><rect x="1204.66" y="865.31" width="16.3" height="141.34" fill="#f5ca9b"/><rect x="1223.93" y="889.02" width="16.3" height="117.63" fill="#f5ca9b"/><rect x="1243.85" y="900.87" width="16.3" height="105.78" fill="#f5ca9b"/><rect x="1263.76" y="889.02" width="16.3" height="117.63" fill="#f5ca9b"/><rect x="1283.04" y="912.72" width="16.3" height="93.93" fill="#f5ca9b"/><rect x="1302.95" y="900.87" width="16.3" height="105.78" fill="#f5ca9b"/><rect x="1322.23" y="900.87" width="16.3" height="105.78" fill="#f5ca9b"/><rect x="1342.14" y="889.02" width="16.3" height="117.63" fill="#f5ca9b"/><rect x="1362.06" y="900.87" width="16.3" height="105.78" fill="#f5ca9b"/><rect x="1380.05" y="889.02" width="16.3" height="117.63" fill="#f5ca9b"/><rect x="1399.97" y="900.87" width="16.3" height="105.78" fill="#f5ca9b"/><rect x="1419.24" y="900.87" width="16.3" height="105.78" fill="#f5ca9b"/><line x1="1182.69" y1="963.1" x2="1435.54" y2="963.1" stroke="#fff" stroke-opacity="0.75" stroke-width="1" stroke-dasharray="1 2.5"/><text x="1178.59" y="966.4" text-anchor="end" font-size="11" fill="#787878">0,4 s</text><line x1="1182.69" y1="918.65" x2="1435.54" y2="918.65" stroke="#fff" stroke-opacity="0.75" stroke-width="1" stroke-dasharray="1 2.5"/><text x="1178.59" y="921.95" text-anchor="end" font-size="11" fill="#787878">0,8 s</text><line x1="1182.69" y1="874.2" x2="1435.54" y2="874.2" stroke="#fff" stroke-opacity="0.75" stroke-width="1" stroke-dasharray="1 2.5"/><text x="1178.59" y="877.5" text-anchor="end" font-size="11" fill="#787878">1,1 s</text><text x="0" y="0" transform="translate(1192.69,1015.95) rotate(-50)" text-anchor="end" dy="0.35em" font-size="10.5" fill="#787878">květen 2020</text><text x="0" y="0" transform="translate(1212.61,1015.95) rotate(-50)" text-anchor="end" dy="0.35em" font-size="10.5" fill="#787878">červen</text><text x="0" y="0" transform="translate(1231.88,1015.95) rotate(-50)" text-anchor="end" dy="0.35em" font-size="10.5" fill="#787878">červenec</text><text x="0" y="0" transform="translate(1251.8,1015.95) rotate(-50)" text-anchor="end" dy="0.35em" font-size="10.5" fill="#787878">srpen</text><text x="0" y="0" transform="translate(1271.71,1015.95) rotate(-50)" text-anchor="end" dy="0.35em" font-size="10.5" fill="#787878">září</text><text x="0" y="0" transform="translate(1290.99,1015.95) rotate(-50)" text-anchor="end" dy="0.35em" font-size="10.5" fill="#787878">říjen</text><text x="0" y="0" transform="translate(1310.9,1015.95) rotate(-50)" text-anchor="end" dy="0.35em" font-size="10.5" fill="#787878">listopad</text><text x="0" y="0" transform="translate(1330.18,1015.95) rotate(-50)" text-anchor="end" dy="0.35em" font-size="10.5" fill="#787878">prosinec</text><text x="0" y="0" transform="translate(1350.09,1015.95) rotate(-50)" text-anchor="end" dy="0.35em" font-size="10.5" fill="#787878">leden</text><text x="0" y="0" transform="translate(1370.01,1015.95) rotate(-50)" text-anchor="end" dy="0.35em" font-size="10.5" fill="#787878">únor</text><text x="0" y="0" transform="translate(1388,1015.95) rotate(-50)" text-anchor="end" dy="0.35em" font-size="10.5" fill="#787878">březen</text><text x="0" y="0" transform="translate(1407.92,1015.95) rotate(-50)" text-anchor="end" dy="0.35em" font-size="10.5" fill="#787878">duben</text><text x="0" y="0" transform="translate(1427.19,1015.95) rotate(-50)" text-anchor="end" dy="0.35em" font-size="10.5" fill="#787878">květen 2021</text>
<rect x="1495.17" y="829.55" width="16.3" height="177.1" fill="#eefafc"/><rect x="1515.09" y="829.55" width="16.3" height="177.1" fill="#eefafc"/><rect x="1534.36" y="829.55" width="16.3" height="177.1" fill="#eefafc"/><rect x="1554.28" y="829.55" width="16.3" height="177.1" fill="#eefafc"/><rect x="1574.19" y="829.55" width="16.3" height="177.1" fill="#eefafc"/><rect x="1593.47" y="829.55" width="16.3" height="177.1" fill="#eefafc"/><rect x="1613.38" y="829.55" width="16.3" height="177.1" fill="#eefafc"/><rect x="1632.66" y="829.55" width="16.3" height="177.1" fill="#eefafc"/><rect x="1652.57" y="829.55" width="16.3" height="177.1" fill="#eefafc"/><rect x="1672.49" y="829.55" width="16.3" height="177.1" fill="#eefafc"/><rect x="1690.48" y="829.55" width="16.3" height="177.1" fill="#eefafc"/><rect x="1710.4" y="829.55" width="16.3" height="177.1" fill="#eefafc"/><rect x="1729.67" y="829.55" width="16.3" height="177.1" fill="#eefafc"/><rect x="1495.17" y="924.58" width="16.3" height="82.07" fill="#f5ca9b"/><rect x="1515.09" y="912.72" width="16.3" height="93.93" fill="#f5ca9b"/><rect x="1534.36" y="900.87" width="16.3" height="105.78" fill="#f5ca9b"/><rect x="1554.28" y="900.87" width="16.3" height="105.78" fill="#f5ca9b"/><rect x="1574.19" y="900.87" width="16.3" height="105.78" fill="#f5ca9b"/><rect x="1593.47" y="900.87" width="16.3" height="105.78" fill="#f5ca9b"/><rect x="1613.38" y="889.02" width="16.3" height="117.63" fill="#f5ca9b"/><rect x="1632.66" y="900.87" width="16.3" height="105.78" fill="#f5ca9b"/><rect x="1652.57" y="900.87" width="16.3" height="105.78" fill="#f5ca9b"/><rect x="1672.49" y="900.87" width="16.3" height="105.78" fill="#f5ca9b"/><rect x="1690.48" y="889.02" width="16.3" height="117.63" fill="#f5ca9b"/><rect x="1710.4" y="889.02" width="16.3" height="117.63" fill="#f5ca9b"/><rect x="1729.67" y="900.87" width="16.3" height="105.78" fill="#f5ca9b"/><line x1="1493.12" y1="963.1" x2="1745.97" y2="963.1" stroke="#fff" stroke-opacity="0.75" stroke-width="1" stroke-dasharray="1 2.5"/><text x="1489.02" y="966.4" text-anchor="end" font-size="11" fill="#787878">0,4 s</text><line x1="1493.12" y1="918.65" x2="1745.97" y2="918.65" stroke="#fff" stroke-opacity="0.75" stroke-width="1" stroke-dasharray="1 2.5"/><text x="1489.02" y="921.95" text-anchor="end" font-size="11" fill="#787878">0,8 s</text><line x1="1493.12" y1="874.2" x2="1745.97" y2="874.2" stroke="#fff" stroke-opacity="0.75" stroke-width="1" stroke-dasharray="1 2.5"/><text x="1489.02" y="877.5" text-anchor="end" font-size="11" fill="#787878">1,1 s</text><text x="0" y="0" transform="translate(1503.12,1015.95) rotate(-50)" text-anchor="end" dy="0.35em" font-size="10.5" fill="#787878">květen 2020</text><text x="0" y="0" transform="translate(1523.04,1015.95) rotate(-50)" text-anchor="end" dy="0.35em" font-size="10.5" fill="#787878">červen</text><text x="0" y="0" transform="translate(1542.31,1015.95) rotate(-50)" text-anchor="end" dy="0.35em" font-size="10.5" fill="#787878">červenec</text><text x="0" y="0" transform="translate(1562.23,1015.95) rotate(-50)" text-anchor="end" dy="0.35em" font-size="10.5" fill="#787878">srpen</text><text x="0" y="0" transform="translate(1582.14,1015.95) rotate(-50)" text-anchor="end" dy="0.35em" font-size="10.5" fill="#787878">září</text><text x="0" y="0" transform="translate(1601.42,1015.95) rotate(-50)" text-anchor="end" dy="0.35em" font-size="10.5" fill="#787878">říjen</text><text x="0" y="0" transform="translate(1621.33,1015.95) rotate(-50)" text-anchor="end" dy="0.35em" font-size="10.5" fill="#787878">listopad</text><text x="0" y="0" transform="translate(1640.61,1015.95) rotate(-50)" text-anchor="end" dy="0.35em" font-size="10.5" fill="#787878">prosinec</text><text x="0" y="0" transform="translate(1660.52,1015.95) rotate(-50)" text-anchor="end" dy="0.35em" font-size="10.5" fill="#787878">leden</text><text x="0" y="0" transform="translate(1680.44,1015.95) rotate(-50)" text-anchor="end" dy="0.35em" font-size="10.5" fill="#787878">únor</text><text x="0" y="0" transform="translate(1698.43,1015.95) rotate(-50)" text-anchor="end" dy="0.35em" font-size="10.5" fill="#787878">březen</text><text x="0" y="0" transform="translate(1718.35,1015.95) rotate(-50)" text-anchor="end" dy="0.35em" font-size="10.5" fill="#787878">duben</text><text x="0" y="0" transform="translate(1737.62,1015.95) rotate(-50)" text-anchor="end" dy="0.35em" font-size="10.5" fill="#787878">květen 2021</text>
</g>
<rect x="1755" y="14.4" width="6" height="1050.6" fill="url(#sh)"/>
</svg></body></html>
